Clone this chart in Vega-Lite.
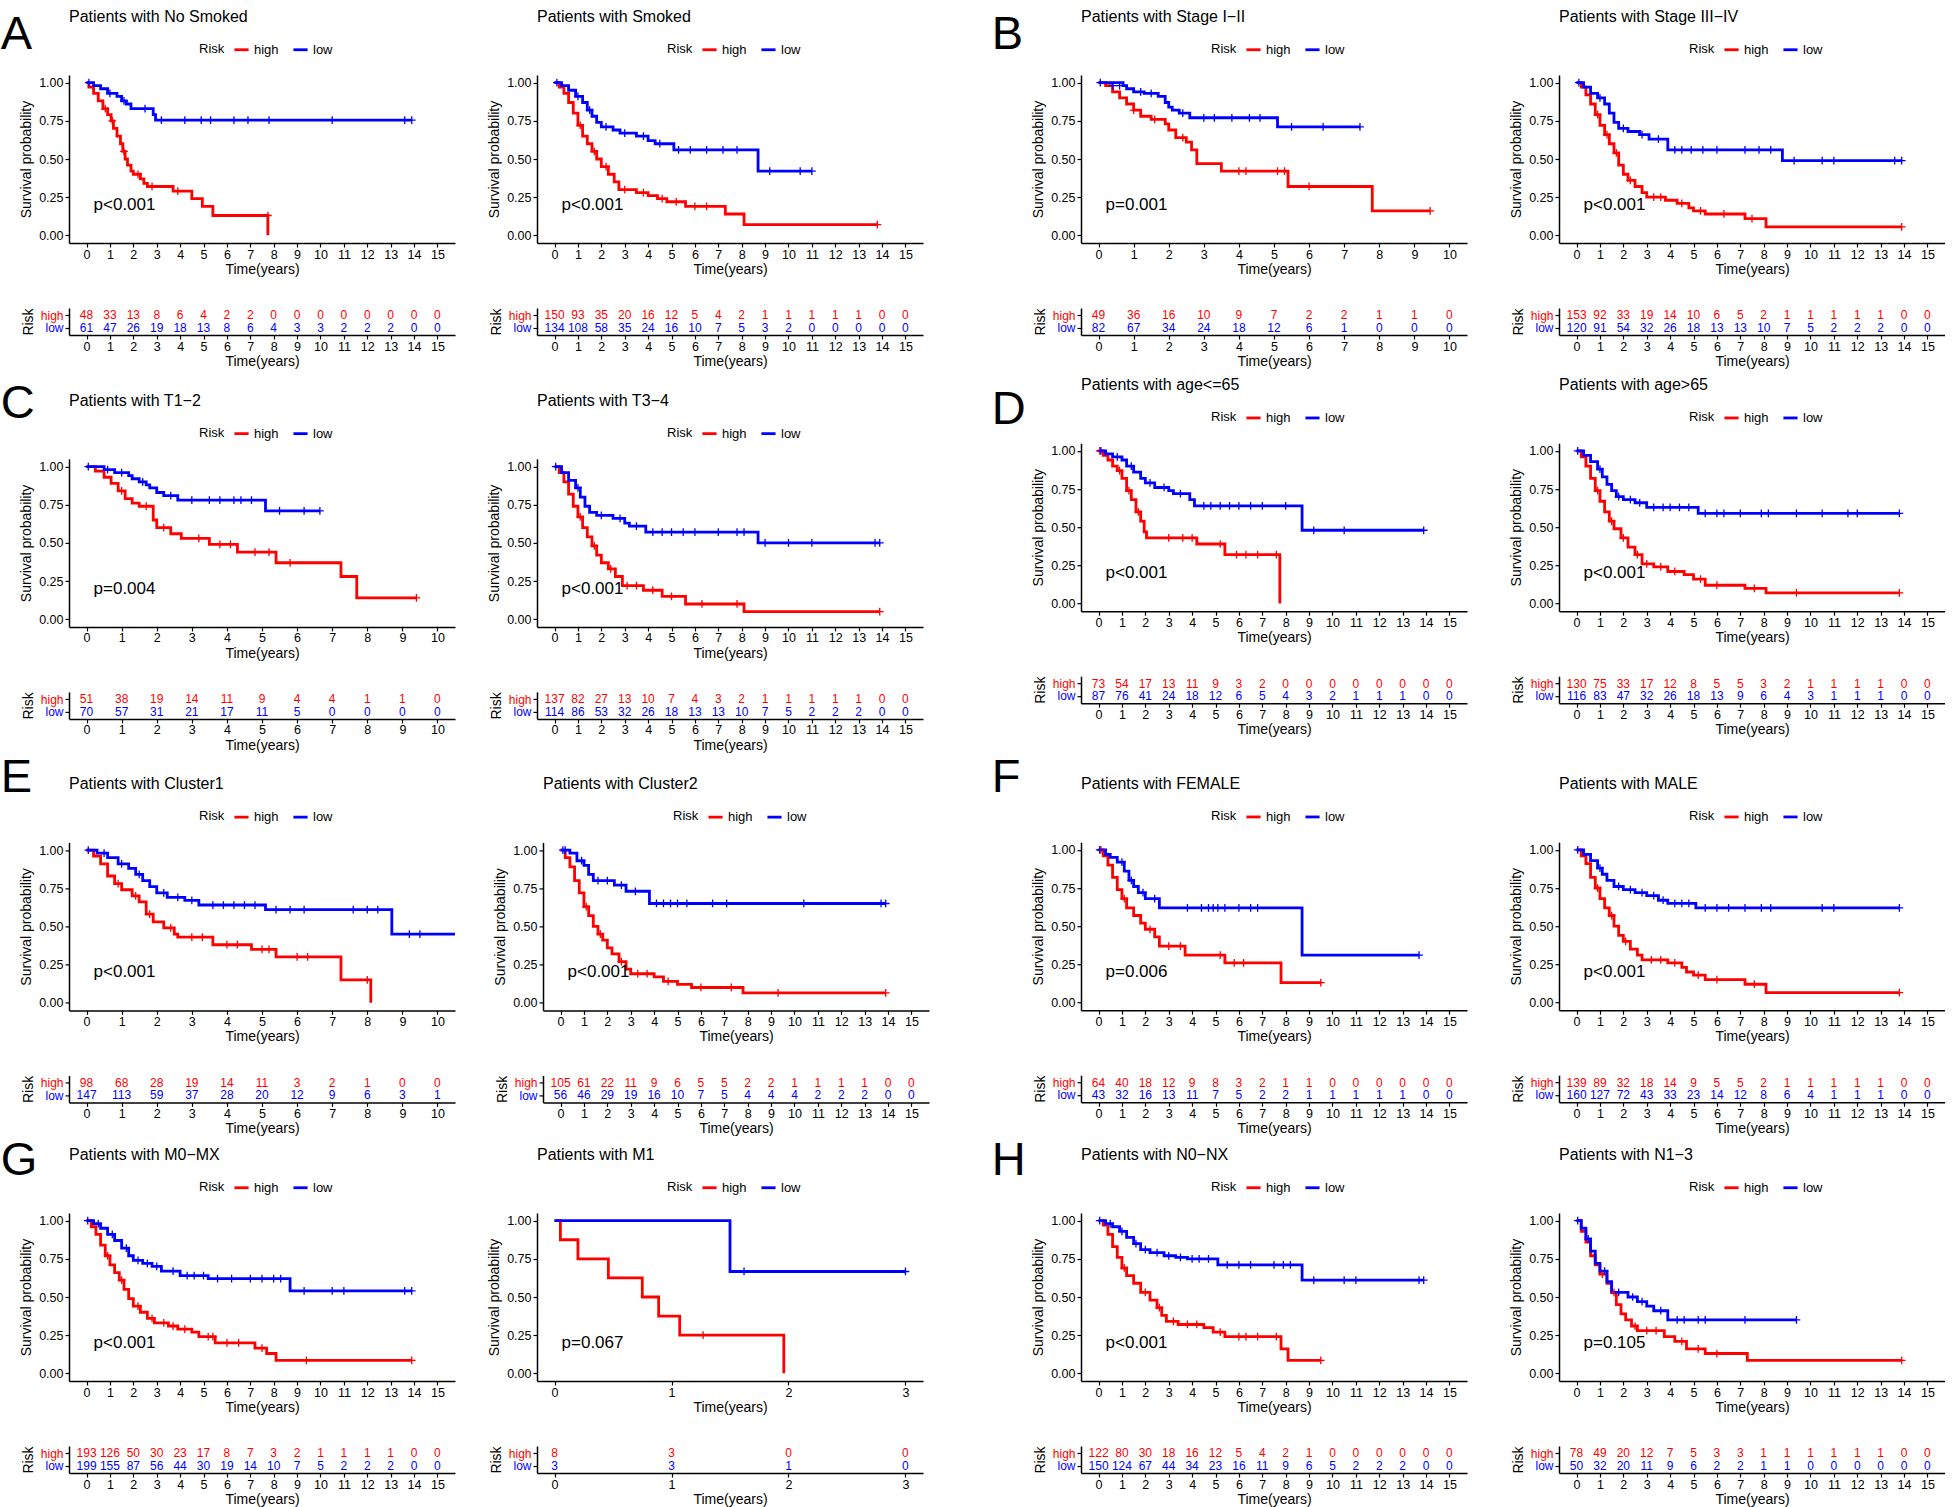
{
"$schema":"https://vega.github.io/schema/vega-lite/v6.json",
"padding":{"left":0,"top":9,"right":0,"bottom":0},
"background":"white",
"datasets":{
"curves":[
{"p":"p1","Risk":"high","t":0,"s":1},{"p":"p1","Risk":"high","t":0.1,"s":0.97},{"p":"p1","Risk":"high","t":0.3,"s":0.93},{"p":"p1","Risk":"high","t":0.5,"s":0.88},{"p":"p1","Risk":"high","t":0.7,"s":0.83},{"p":"p1","Risk":"high","t":0.9,"s":0.79},{"p":"p1","Risk":"high","t":1.05,"s":0.75},{"p":"p1","Risk":"high","t":1.15,"s":0.7},{"p":"p1","Risk":"high","t":1.3,"s":0.65},{"p":"p1","Risk":"high","t":1.45,"s":0.6},{"p":"p1","Risk":"high","t":1.55,"s":0.55},{"p":"p1","Risk":"high","t":1.65,"s":0.5},{"p":"p1","Risk":"high","t":1.75,"s":0.46},{"p":"p1","Risk":"high","t":1.9,"s":0.42},{"p":"p1","Risk":"high","t":2,"s":0.4},{"p":"p1","Risk":"high","t":2.3,"s":0.37},{"p":"p1","Risk":"high","t":2.45,"s":0.34},{"p":"p1","Risk":"high","t":2.6,"s":0.32},{"p":"p1","Risk":"high","t":3.7,"s":0.29},{"p":"p1","Risk":"high","t":4.5,"s":0.24},{"p":"p1","Risk":"high","t":4.95,"s":0.19},{"p":"p1","Risk":"high","t":5.4,"s":0.13},{"p":"p1","Risk":"high","t":7.75,"s":0},
{"p":"p1","Risk":"low","t":0,"s":1},{"p":"p1","Risk":"low","t":0.3,"s":0.98},{"p":"p1","Risk":"low","t":0.6,"s":0.96},{"p":"p1","Risk":"low","t":0.9,"s":0.93},{"p":"p1","Risk":"low","t":1.3,"s":0.91},{"p":"p1","Risk":"low","t":1.5,"s":0.88},{"p":"p1","Risk":"low","t":1.7,"s":0.86},{"p":"p1","Risk":"low","t":1.9,"s":0.83},{"p":"p1","Risk":"low","t":2.85,"s":0.79},{"p":"p1","Risk":"low","t":2.95,"s":0.755},{"p":"p1","Risk":"low","t":13.9,"s":0.755},
{"p":"p2","Risk":"high","t":0,"s":1},{"p":"p2","Risk":"high","t":0.2,"s":0.97},{"p":"p2","Risk":"high","t":0.4,"s":0.93},{"p":"p2","Risk":"high","t":0.6,"s":0.87},{"p":"p2","Risk":"high","t":0.8,"s":0.8},{"p":"p2","Risk":"high","t":1,"s":0.72},{"p":"p2","Risk":"high","t":1.2,"s":0.65},{"p":"p2","Risk":"high","t":1.4,"s":0.6},{"p":"p2","Risk":"high","t":1.6,"s":0.55},{"p":"p2","Risk":"high","t":1.8,"s":0.5},{"p":"p2","Risk":"high","t":2,"s":0.45},{"p":"p2","Risk":"high","t":2.3,"s":0.4},{"p":"p2","Risk":"high","t":2.55,"s":0.35},{"p":"p2","Risk":"high","t":2.75,"s":0.3},{"p":"p2","Risk":"high","t":3.5,"s":0.28},{"p":"p2","Risk":"high","t":4,"s":0.26},{"p":"p2","Risk":"high","t":4.4,"s":0.24},{"p":"p2","Risk":"high","t":4.8,"s":0.22},{"p":"p2","Risk":"high","t":5.6,"s":0.19},{"p":"p2","Risk":"high","t":7.3,"s":0.14},{"p":"p2","Risk":"high","t":8.1,"s":0.07},{"p":"p2","Risk":"high","t":13.8,"s":0.07},
{"p":"p2","Risk":"low","t":0,"s":1},{"p":"p2","Risk":"low","t":0.3,"s":0.98},{"p":"p2","Risk":"low","t":0.6,"s":0.95},{"p":"p2","Risk":"low","t":0.9,"s":0.91},{"p":"p2","Risk":"low","t":1.2,"s":0.87},{"p":"p2","Risk":"low","t":1.4,"s":0.82},{"p":"p2","Risk":"low","t":1.6,"s":0.78},{"p":"p2","Risk":"low","t":1.8,"s":0.74},{"p":"p2","Risk":"low","t":2,"s":0.71},{"p":"p2","Risk":"low","t":2.5,"s":0.69},{"p":"p2","Risk":"low","t":2.8,"s":0.67},{"p":"p2","Risk":"low","t":3.5,"s":0.65},{"p":"p2","Risk":"low","t":4,"s":0.62},{"p":"p2","Risk":"low","t":4.3,"s":0.6},{"p":"p2","Risk":"low","t":5.1,"s":0.56},{"p":"p2","Risk":"low","t":8.7,"s":0.42},{"p":"p2","Risk":"low","t":11,"s":0.42},
{"p":"p3","Risk":"high","t":0,"s":1},{"p":"p3","Risk":"high","t":0.2,"s":0.98},{"p":"p3","Risk":"high","t":0.4,"s":0.94},{"p":"p3","Risk":"high","t":0.6,"s":0.9},{"p":"p3","Risk":"high","t":0.8,"s":0.86},{"p":"p3","Risk":"high","t":1,"s":0.82},{"p":"p3","Risk":"high","t":1.2,"s":0.78},{"p":"p3","Risk":"high","t":1.5,"s":0.76},{"p":"p3","Risk":"high","t":1.9,"s":0.73},{"p":"p3","Risk":"high","t":2,"s":0.69},{"p":"p3","Risk":"high","t":2.2,"s":0.64},{"p":"p3","Risk":"high","t":2.5,"s":0.61},{"p":"p3","Risk":"high","t":2.65,"s":0.56},{"p":"p3","Risk":"high","t":2.8,"s":0.47},{"p":"p3","Risk":"high","t":3.5,"s":0.42},{"p":"p3","Risk":"high","t":5.4,"s":0.32},{"p":"p3","Risk":"high","t":7.8,"s":0.16},{"p":"p3","Risk":"high","t":9.45,"s":0.16},
{"p":"p3","Risk":"low","t":0,"s":1},{"p":"p3","Risk":"low","t":0.7,"s":0.98},{"p":"p3","Risk":"low","t":0.8,"s":0.96},{"p":"p3","Risk":"low","t":1,"s":0.94},{"p":"p3","Risk":"low","t":1.3,"s":0.93},{"p":"p3","Risk":"low","t":1.7,"s":0.91},{"p":"p3","Risk":"low","t":1.9,"s":0.87},{"p":"p3","Risk":"low","t":2,"s":0.84},{"p":"p3","Risk":"low","t":2.1,"s":0.82},{"p":"p3","Risk":"low","t":2.3,"s":0.8},{"p":"p3","Risk":"low","t":2.6,"s":0.77},{"p":"p3","Risk":"low","t":5.1,"s":0.71},{"p":"p3","Risk":"low","t":7.45,"s":0.71},
{"p":"p4","Risk":"high","t":0,"s":1},{"p":"p4","Risk":"high","t":0.2,"s":0.97},{"p":"p4","Risk":"high","t":0.4,"s":0.92},{"p":"p4","Risk":"high","t":0.6,"s":0.86},{"p":"p4","Risk":"high","t":0.8,"s":0.79},{"p":"p4","Risk":"high","t":1,"s":0.72},{"p":"p4","Risk":"high","t":1.2,"s":0.66},{"p":"p4","Risk":"high","t":1.4,"s":0.6},{"p":"p4","Risk":"high","t":1.6,"s":0.54},{"p":"p4","Risk":"high","t":1.8,"s":0.46},{"p":"p4","Risk":"high","t":2,"s":0.4},{"p":"p4","Risk":"high","t":2.2,"s":0.36},{"p":"p4","Risk":"high","t":2.5,"s":0.32},{"p":"p4","Risk":"high","t":2.8,"s":0.28},{"p":"p4","Risk":"high","t":3,"s":0.25},{"p":"p4","Risk":"high","t":3.8,"s":0.23},{"p":"p4","Risk":"high","t":4.3,"s":0.21},{"p":"p4","Risk":"high","t":4.8,"s":0.18},{"p":"p4","Risk":"high","t":5,"s":0.16},{"p":"p4","Risk":"high","t":5.5,"s":0.14},{"p":"p4","Risk":"high","t":7.2,"s":0.11},{"p":"p4","Risk":"high","t":8.1,"s":0.055},{"p":"p4","Risk":"high","t":13.9,"s":0.055},
{"p":"p4","Risk":"low","t":0,"s":1},{"p":"p4","Risk":"low","t":0.3,"s":0.97},{"p":"p4","Risk":"low","t":0.6,"s":0.93},{"p":"p4","Risk":"low","t":0.9,"s":0.9},{"p":"p4","Risk":"low","t":1.2,"s":0.86},{"p":"p4","Risk":"low","t":1.4,"s":0.8},{"p":"p4","Risk":"low","t":1.6,"s":0.74},{"p":"p4","Risk":"low","t":1.8,"s":0.7},{"p":"p4","Risk":"low","t":2.2,"s":0.68},{"p":"p4","Risk":"low","t":2.7,"s":0.66},{"p":"p4","Risk":"low","t":3.1,"s":0.63},{"p":"p4","Risk":"low","t":3.9,"s":0.56},{"p":"p4","Risk":"low","t":8.8,"s":0.49},{"p":"p4","Risk":"low","t":13.9,"s":0.49},
{"p":"p5","Risk":"high","t":0,"s":1},{"p":"p5","Risk":"high","t":0.25,"s":0.97},{"p":"p5","Risk":"high","t":0.5,"s":0.93},{"p":"p5","Risk":"high","t":0.7,"s":0.89},{"p":"p5","Risk":"high","t":0.9,"s":0.84},{"p":"p5","Risk":"high","t":1.1,"s":0.79},{"p":"p5","Risk":"high","t":1.3,"s":0.76},{"p":"p5","Risk":"high","t":1.5,"s":0.74},{"p":"p5","Risk":"high","t":1.9,"s":0.65},{"p":"p5","Risk":"high","t":2,"s":0.6},{"p":"p5","Risk":"high","t":2.4,"s":0.56},{"p":"p5","Risk":"high","t":2.7,"s":0.53},{"p":"p5","Risk":"high","t":3.5,"s":0.49},{"p":"p5","Risk":"high","t":4.3,"s":0.44},{"p":"p5","Risk":"high","t":5.4,"s":0.37},{"p":"p5","Risk":"high","t":7.25,"s":0.28},{"p":"p5","Risk":"high","t":7.7,"s":0.14},{"p":"p5","Risk":"high","t":9.4,"s":0.14},
{"p":"p5","Risk":"low","t":0,"s":1},{"p":"p5","Risk":"low","t":0.5,"s":0.98},{"p":"p5","Risk":"low","t":0.8,"s":0.96},{"p":"p5","Risk":"low","t":1.2,"s":0.94},{"p":"p5","Risk":"low","t":1.3,"s":0.92},{"p":"p5","Risk":"low","t":1.5,"s":0.9},{"p":"p5","Risk":"low","t":1.7,"s":0.88},{"p":"p5","Risk":"low","t":1.8,"s":0.86},{"p":"p5","Risk":"low","t":2,"s":0.83},{"p":"p5","Risk":"low","t":2.2,"s":0.81},{"p":"p5","Risk":"low","t":2.6,"s":0.78},{"p":"p5","Risk":"low","t":5.1,"s":0.71},{"p":"p5","Risk":"low","t":6.65,"s":0.71},
{"p":"p6","Risk":"high","t":0,"s":1},{"p":"p6","Risk":"high","t":0.2,"s":0.96},{"p":"p6","Risk":"high","t":0.4,"s":0.9},{"p":"p6","Risk":"high","t":0.6,"s":0.82},{"p":"p6","Risk":"high","t":0.8,"s":0.74},{"p":"p6","Risk":"high","t":1,"s":0.67},{"p":"p6","Risk":"high","t":1.2,"s":0.6},{"p":"p6","Risk":"high","t":1.4,"s":0.54},{"p":"p6","Risk":"high","t":1.6,"s":0.48},{"p":"p6","Risk":"high","t":1.8,"s":0.42},{"p":"p6","Risk":"high","t":2,"s":0.37},{"p":"p6","Risk":"high","t":2.3,"s":0.33},{"p":"p6","Risk":"high","t":2.6,"s":0.28},{"p":"p6","Risk":"high","t":2.9,"s":0.22},{"p":"p6","Risk":"high","t":3.8,"s":0.19},{"p":"p6","Risk":"high","t":4.6,"s":0.15},{"p":"p6","Risk":"high","t":5.6,"s":0.1},{"p":"p6","Risk":"high","t":8.1,"s":0.05},{"p":"p6","Risk":"high","t":13.9,"s":0.05},
{"p":"p6","Risk":"low","t":0,"s":1},{"p":"p6","Risk":"low","t":0.3,"s":0.96},{"p":"p6","Risk":"low","t":0.6,"s":0.91},{"p":"p6","Risk":"low","t":0.9,"s":0.86},{"p":"p6","Risk":"low","t":1.1,"s":0.8},{"p":"p6","Risk":"low","t":1.3,"s":0.74},{"p":"p6","Risk":"low","t":1.5,"s":0.7},{"p":"p6","Risk":"low","t":1.8,"s":0.68},{"p":"p6","Risk":"low","t":2.5,"s":0.66},{"p":"p6","Risk":"low","t":3,"s":0.63},{"p":"p6","Risk":"low","t":3.2,"s":0.61},{"p":"p6","Risk":"low","t":3.9,"s":0.57},{"p":"p6","Risk":"low","t":8.7,"s":0.5},{"p":"p6","Risk":"low","t":13.9,"s":0.5},
{"p":"p7","Risk":"high","t":0,"s":1},{"p":"p7","Risk":"high","t":0.2,"s":0.97},{"p":"p7","Risk":"high","t":0.4,"s":0.94},{"p":"p7","Risk":"high","t":0.6,"s":0.9},{"p":"p7","Risk":"high","t":0.8,"s":0.87},{"p":"p7","Risk":"high","t":1,"s":0.82},{"p":"p7","Risk":"high","t":1.2,"s":0.74},{"p":"p7","Risk":"high","t":1.4,"s":0.68},{"p":"p7","Risk":"high","t":1.6,"s":0.6},{"p":"p7","Risk":"high","t":1.8,"s":0.54},{"p":"p7","Risk":"high","t":1.95,"s":0.47},{"p":"p7","Risk":"high","t":2.05,"s":0.43},{"p":"p7","Risk":"high","t":4.2,"s":0.39},{"p":"p7","Risk":"high","t":5.4,"s":0.32},{"p":"p7","Risk":"high","t":7.75,"s":0},
{"p":"p7","Risk":"low","t":0,"s":1},{"p":"p7","Risk":"low","t":0.3,"s":0.98},{"p":"p7","Risk":"low","t":0.6,"s":0.96},{"p":"p7","Risk":"low","t":1,"s":0.94},{"p":"p7","Risk":"low","t":1.2,"s":0.9},{"p":"p7","Risk":"low","t":1.5,"s":0.86},{"p":"p7","Risk":"low","t":1.8,"s":0.82},{"p":"p7","Risk":"low","t":2,"s":0.79},{"p":"p7","Risk":"low","t":2.4,"s":0.76},{"p":"p7","Risk":"low","t":3,"s":0.74},{"p":"p7","Risk":"low","t":3.2,"s":0.72},{"p":"p7","Risk":"low","t":3.9,"s":0.68},{"p":"p7","Risk":"low","t":4.1,"s":0.64},{"p":"p7","Risk":"low","t":8.7,"s":0.48},{"p":"p7","Risk":"low","t":13.9,"s":0.48},
{"p":"p8","Risk":"high","t":0,"s":1},{"p":"p8","Risk":"high","t":0.2,"s":0.96},{"p":"p8","Risk":"high","t":0.4,"s":0.9},{"p":"p8","Risk":"high","t":0.6,"s":0.82},{"p":"p8","Risk":"high","t":0.8,"s":0.74},{"p":"p8","Risk":"high","t":1,"s":0.67},{"p":"p8","Risk":"high","t":1.2,"s":0.6},{"p":"p8","Risk":"high","t":1.4,"s":0.54},{"p":"p8","Risk":"high","t":1.6,"s":0.49},{"p":"p8","Risk":"high","t":1.9,"s":0.43},{"p":"p8","Risk":"high","t":2.2,"s":0.37},{"p":"p8","Risk":"high","t":2.5,"s":0.32},{"p":"p8","Risk":"high","t":2.8,"s":0.26},{"p":"p8","Risk":"high","t":3.3,"s":0.24},{"p":"p8","Risk":"high","t":3.9,"s":0.21},{"p":"p8","Risk":"high","t":4.6,"s":0.19},{"p":"p8","Risk":"high","t":5,"s":0.16},{"p":"p8","Risk":"high","t":5.5,"s":0.12},{"p":"p8","Risk":"high","t":7.2,"s":0.1},{"p":"p8","Risk":"high","t":8.1,"s":0.07},{"p":"p8","Risk":"high","t":13.8,"s":0.07},
{"p":"p8","Risk":"low","t":0,"s":1},{"p":"p8","Risk":"low","t":0.3,"s":0.97},{"p":"p8","Risk":"low","t":0.6,"s":0.93},{"p":"p8","Risk":"low","t":0.9,"s":0.88},{"p":"p8","Risk":"low","t":1.1,"s":0.83},{"p":"p8","Risk":"low","t":1.3,"s":0.78},{"p":"p8","Risk":"low","t":1.5,"s":0.74},{"p":"p8","Risk":"low","t":1.7,"s":0.7},{"p":"p8","Risk":"low","t":2,"s":0.68},{"p":"p8","Risk":"low","t":2.5,"s":0.66},{"p":"p8","Risk":"low","t":3,"s":0.63},{"p":"p8","Risk":"low","t":5.2,"s":0.59},{"p":"p8","Risk":"low","t":13.8,"s":0.59},
{"p":"p9","Risk":"high","t":0,"s":1},{"p":"p9","Risk":"high","t":0.2,"s":0.96},{"p":"p9","Risk":"high","t":0.4,"s":0.91},{"p":"p9","Risk":"high","t":0.6,"s":0.83},{"p":"p9","Risk":"high","t":0.8,"s":0.78},{"p":"p9","Risk":"high","t":1,"s":0.74},{"p":"p9","Risk":"high","t":1.3,"s":0.7},{"p":"p9","Risk":"high","t":1.5,"s":0.66},{"p":"p9","Risk":"high","t":1.7,"s":0.58},{"p":"p9","Risk":"high","t":1.9,"s":0.53},{"p":"p9","Risk":"high","t":2.2,"s":0.49},{"p":"p9","Risk":"high","t":2.5,"s":0.45},{"p":"p9","Risk":"high","t":2.6,"s":0.43},{"p":"p9","Risk":"high","t":3.6,"s":0.38},{"p":"p9","Risk":"high","t":4.7,"s":0.35},{"p":"p9","Risk":"high","t":5.4,"s":0.3},{"p":"p9","Risk":"high","t":7.25,"s":0.15},{"p":"p9","Risk":"high","t":8.1,"s":0},
{"p":"p9","Risk":"low","t":0,"s":1},{"p":"p9","Risk":"low","t":0.3,"s":0.98},{"p":"p9","Risk":"low","t":0.6,"s":0.95},{"p":"p9","Risk":"low","t":0.9,"s":0.91},{"p":"p9","Risk":"low","t":1.2,"s":0.88},{"p":"p9","Risk":"low","t":1.4,"s":0.84},{"p":"p9","Risk":"low","t":1.6,"s":0.8},{"p":"p9","Risk":"low","t":1.8,"s":0.76},{"p":"p9","Risk":"low","t":2,"s":0.72},{"p":"p9","Risk":"low","t":2.3,"s":0.69},{"p":"p9","Risk":"low","t":2.8,"s":0.67},{"p":"p9","Risk":"low","t":3.2,"s":0.64},{"p":"p9","Risk":"low","t":5.1,"s":0.61},{"p":"p9","Risk":"low","t":8.7,"s":0.45},{"p":"p9","Risk":"low","t":10.5,"s":0.45},
{"p":"p10","Risk":"high","t":0,"s":1},{"p":"p10","Risk":"high","t":0.2,"s":0.95},{"p":"p10","Risk":"high","t":0.4,"s":0.89},{"p":"p10","Risk":"high","t":0.6,"s":0.8},{"p":"p10","Risk":"high","t":0.8,"s":0.72},{"p":"p10","Risk":"high","t":1,"s":0.63},{"p":"p10","Risk":"high","t":1.2,"s":0.57},{"p":"p10","Risk":"high","t":1.4,"s":0.5},{"p":"p10","Risk":"high","t":1.6,"s":0.45},{"p":"p10","Risk":"high","t":1.8,"s":0.41},{"p":"p10","Risk":"high","t":2,"s":0.36},{"p":"p10","Risk":"high","t":2.2,"s":0.32},{"p":"p10","Risk":"high","t":2.5,"s":0.27},{"p":"p10","Risk":"high","t":2.8,"s":0.22},{"p":"p10","Risk":"high","t":3,"s":0.19},{"p":"p10","Risk":"high","t":4,"s":0.17},{"p":"p10","Risk":"high","t":4.4,"s":0.14},{"p":"p10","Risk":"high","t":5,"s":0.12},{"p":"p10","Risk":"high","t":5.6,"s":0.1},{"p":"p10","Risk":"high","t":7.8,"s":0.065},{"p":"p10","Risk":"high","t":13.9,"s":0.065},
{"p":"p10","Risk":"low","t":0,"s":1},{"p":"p10","Risk":"low","t":0.4,"s":0.98},{"p":"p10","Risk":"low","t":0.7,"s":0.93},{"p":"p10","Risk":"low","t":1,"s":0.9},{"p":"p10","Risk":"low","t":1.2,"s":0.84},{"p":"p10","Risk":"low","t":1.4,"s":0.8},{"p":"p10","Risk":"low","t":2.3,"s":0.77},{"p":"p10","Risk":"low","t":2.8,"s":0.73},{"p":"p10","Risk":"low","t":3.8,"s":0.65},{"p":"p10","Risk":"low","t":13.9,"s":0.65},
{"p":"p11","Risk":"high","t":0,"s":1},{"p":"p11","Risk":"high","t":0.2,"s":0.96},{"p":"p11","Risk":"high","t":0.4,"s":0.9},{"p":"p11","Risk":"high","t":0.6,"s":0.82},{"p":"p11","Risk":"high","t":0.8,"s":0.74},{"p":"p11","Risk":"high","t":1,"s":0.68},{"p":"p11","Risk":"high","t":1.2,"s":0.62},{"p":"p11","Risk":"high","t":1.5,"s":0.57},{"p":"p11","Risk":"high","t":1.8,"s":0.52},{"p":"p11","Risk":"high","t":2,"s":0.48},{"p":"p11","Risk":"high","t":2.4,"s":0.43},{"p":"p11","Risk":"high","t":2.6,"s":0.37},{"p":"p11","Risk":"high","t":3.7,"s":0.31},{"p":"p11","Risk":"high","t":5.4,"s":0.26},{"p":"p11","Risk":"high","t":7.8,"s":0.13},{"p":"p11","Risk":"high","t":9.5,"s":0.13},
{"p":"p11","Risk":"low","t":0,"s":1},{"p":"p11","Risk":"low","t":0.3,"s":0.97},{"p":"p11","Risk":"low","t":0.5,"s":0.95},{"p":"p11","Risk":"low","t":0.8,"s":0.92},{"p":"p11","Risk":"low","t":1.1,"s":0.86},{"p":"p11","Risk":"low","t":1.3,"s":0.8},{"p":"p11","Risk":"low","t":1.5,"s":0.76},{"p":"p11","Risk":"low","t":1.7,"s":0.72},{"p":"p11","Risk":"low","t":2,"s":0.68},{"p":"p11","Risk":"low","t":2.6,"s":0.62},{"p":"p11","Risk":"low","t":8.7,"s":0.31},{"p":"p11","Risk":"low","t":13.7,"s":0.31},
{"p":"p12","Risk":"high","t":0,"s":1},{"p":"p12","Risk":"high","t":0.2,"s":0.96},{"p":"p12","Risk":"high","t":0.4,"s":0.91},{"p":"p12","Risk":"high","t":0.6,"s":0.82},{"p":"p12","Risk":"high","t":0.8,"s":0.75},{"p":"p12","Risk":"high","t":1,"s":0.68},{"p":"p12","Risk":"high","t":1.2,"s":0.62},{"p":"p12","Risk":"high","t":1.4,"s":0.57},{"p":"p12","Risk":"high","t":1.6,"s":0.5},{"p":"p12","Risk":"high","t":1.8,"s":0.44},{"p":"p12","Risk":"high","t":2,"s":0.4},{"p":"p12","Risk":"high","t":2.3,"s":0.35},{"p":"p12","Risk":"high","t":2.6,"s":0.31},{"p":"p12","Risk":"high","t":2.8,"s":0.28},{"p":"p12","Risk":"high","t":3.9,"s":0.26},{"p":"p12","Risk":"high","t":4.5,"s":0.23},{"p":"p12","Risk":"high","t":4.7,"s":0.2},{"p":"p12","Risk":"high","t":5,"s":0.18},{"p":"p12","Risk":"high","t":5.5,"s":0.15},{"p":"p12","Risk":"high","t":7.2,"s":0.12},{"p":"p12","Risk":"high","t":8.1,"s":0.065},{"p":"p12","Risk":"high","t":13.8,"s":0.065},
{"p":"p12","Risk":"low","t":0,"s":1},{"p":"p12","Risk":"low","t":0.3,"s":0.97},{"p":"p12","Risk":"low","t":0.6,"s":0.93},{"p":"p12","Risk":"low","t":0.9,"s":0.88},{"p":"p12","Risk":"low","t":1.1,"s":0.84},{"p":"p12","Risk":"low","t":1.3,"s":0.8},{"p":"p12","Risk":"low","t":1.6,"s":0.76},{"p":"p12","Risk":"low","t":2,"s":0.74},{"p":"p12","Risk":"low","t":2.5,"s":0.72},{"p":"p12","Risk":"low","t":3,"s":0.7},{"p":"p12","Risk":"low","t":3.5,"s":0.67},{"p":"p12","Risk":"low","t":3.9,"s":0.65},{"p":"p12","Risk":"low","t":5.1,"s":0.62},{"p":"p12","Risk":"low","t":13.8,"s":0.62},
{"p":"p13","Risk":"high","t":0,"s":1},{"p":"p13","Risk":"high","t":0.2,"s":0.96},{"p":"p13","Risk":"high","t":0.4,"s":0.91},{"p":"p13","Risk":"high","t":0.6,"s":0.84},{"p":"p13","Risk":"high","t":0.8,"s":0.77},{"p":"p13","Risk":"high","t":1,"s":0.71},{"p":"p13","Risk":"high","t":1.2,"s":0.66},{"p":"p13","Risk":"high","t":1.4,"s":0.61},{"p":"p13","Risk":"high","t":1.6,"s":0.55},{"p":"p13","Risk":"high","t":1.8,"s":0.49},{"p":"p13","Risk":"high","t":2,"s":0.44},{"p":"p13","Risk":"high","t":2.3,"s":0.4},{"p":"p13","Risk":"high","t":2.6,"s":0.36},{"p":"p13","Risk":"high","t":2.9,"s":0.33},{"p":"p13","Risk":"high","t":3.5,"s":0.31},{"p":"p13","Risk":"high","t":3.9,"s":0.29},{"p":"p13","Risk":"high","t":4.5,"s":0.27},{"p":"p13","Risk":"high","t":4.8,"s":0.24},{"p":"p13","Risk":"high","t":5.5,"s":0.2},{"p":"p13","Risk":"high","t":7.2,"s":0.165},{"p":"p13","Risk":"high","t":7.7,"s":0.13},{"p":"p13","Risk":"high","t":8.1,"s":0.085},{"p":"p13","Risk":"high","t":13.9,"s":0.085},
{"p":"p13","Risk":"low","t":0,"s":1},{"p":"p13","Risk":"low","t":0.3,"s":0.98},{"p":"p13","Risk":"low","t":0.6,"s":0.95},{"p":"p13","Risk":"low","t":0.9,"s":0.91},{"p":"p13","Risk":"low","t":1.2,"s":0.87},{"p":"p13","Risk":"low","t":1.5,"s":0.82},{"p":"p13","Risk":"low","t":1.8,"s":0.77},{"p":"p13","Risk":"low","t":2,"s":0.74},{"p":"p13","Risk":"low","t":2.4,"s":0.72},{"p":"p13","Risk":"low","t":2.8,"s":0.7},{"p":"p13","Risk":"low","t":3.2,"s":0.67},{"p":"p13","Risk":"low","t":4,"s":0.64},{"p":"p13","Risk":"low","t":5.2,"s":0.62},{"p":"p13","Risk":"low","t":8.7,"s":0.54},{"p":"p13","Risk":"low","t":13.9,"s":0.54},
{"p":"p14","Risk":"high","t":0,"s":1},{"p":"p14","Risk":"high","t":0.05,"s":0.875},{"p":"p14","Risk":"high","t":0.2,"s":0.75},{"p":"p14","Risk":"high","t":0.46,"s":0.625},{"p":"p14","Risk":"high","t":0.75,"s":0.5},{"p":"p14","Risk":"high","t":0.89,"s":0.375},{"p":"p14","Risk":"high","t":1.07,"s":0.25},{"p":"p14","Risk":"high","t":1.96,"s":0},
{"p":"p14","Risk":"low","t":0,"s":1},{"p":"p14","Risk":"low","t":1.5,"s":0.667},{"p":"p14","Risk":"low","t":3,"s":0.667},
{"p":"p15","Risk":"high","t":0,"s":1},{"p":"p15","Risk":"high","t":0.2,"s":0.97},{"p":"p15","Risk":"high","t":0.4,"s":0.91},{"p":"p15","Risk":"high","t":0.6,"s":0.83},{"p":"p15","Risk":"high","t":0.8,"s":0.76},{"p":"p15","Risk":"high","t":1,"s":0.69},{"p":"p15","Risk":"high","t":1.2,"s":0.64},{"p":"p15","Risk":"high","t":1.5,"s":0.59},{"p":"p15","Risk":"high","t":1.8,"s":0.53},{"p":"p15","Risk":"high","t":2.2,"s":0.48},{"p":"p15","Risk":"high","t":2.5,"s":0.43},{"p":"p15","Risk":"high","t":2.7,"s":0.38},{"p":"p15","Risk":"high","t":2.9,"s":0.34},{"p":"p15","Risk":"high","t":3.4,"s":0.32},{"p":"p15","Risk":"high","t":4.5,"s":0.3},{"p":"p15","Risk":"high","t":4.9,"s":0.27},{"p":"p15","Risk":"high","t":5.4,"s":0.24},{"p":"p15","Risk":"high","t":7.8,"s":0.16},{"p":"p15","Risk":"high","t":8.1,"s":0.085},{"p":"p15","Risk":"high","t":9.5,"s":0.085},
{"p":"p15","Risk":"low","t":0,"s":1},{"p":"p15","Risk":"low","t":0.3,"s":0.98},{"p":"p15","Risk":"low","t":0.6,"s":0.96},{"p":"p15","Risk":"low","t":0.9,"s":0.93},{"p":"p15","Risk":"low","t":1.2,"s":0.89},{"p":"p15","Risk":"low","t":1.5,"s":0.85},{"p":"p15","Risk":"low","t":1.8,"s":0.81},{"p":"p15","Risk":"low","t":2.2,"s":0.79},{"p":"p15","Risk":"low","t":2.8,"s":0.77},{"p":"p15","Risk":"low","t":3.3,"s":0.76},{"p":"p15","Risk":"low","t":3.8,"s":0.75},{"p":"p15","Risk":"low","t":5.1,"s":0.71},{"p":"p15","Risk":"low","t":8.7,"s":0.61},{"p":"p15","Risk":"low","t":13.9,"s":0.61},
{"p":"p16","Risk":"high","t":0,"s":1},{"p":"p16","Risk":"high","t":0.2,"s":0.93},{"p":"p16","Risk":"high","t":0.4,"s":0.86},{"p":"p16","Risk":"high","t":0.6,"s":0.77},{"p":"p16","Risk":"high","t":0.8,"s":0.71},{"p":"p16","Risk":"high","t":1,"s":0.65},{"p":"p16","Risk":"high","t":1.3,"s":0.59},{"p":"p16","Risk":"high","t":1.5,"s":0.53},{"p":"p16","Risk":"high","t":1.7,"s":0.45},{"p":"p16","Risk":"high","t":1.9,"s":0.39},{"p":"p16","Risk":"high","t":2.1,"s":0.35},{"p":"p16","Risk":"high","t":2.35,"s":0.31},{"p":"p16","Risk":"high","t":2.6,"s":0.28},{"p":"p16","Risk":"high","t":3.75,"s":0.24},{"p":"p16","Risk":"high","t":4.2,"s":0.21},{"p":"p16","Risk":"high","t":4.7,"s":0.16},{"p":"p16","Risk":"high","t":5.5,"s":0.13},{"p":"p16","Risk":"high","t":7.3,"s":0.085},{"p":"p16","Risk":"high","t":13.9,"s":0.085},
{"p":"p16","Risk":"low","t":0,"s":1},{"p":"p16","Risk":"low","t":0.2,"s":0.95},{"p":"p16","Risk":"low","t":0.4,"s":0.88},{"p":"p16","Risk":"low","t":0.6,"s":0.8},{"p":"p16","Risk":"low","t":0.8,"s":0.72},{"p":"p16","Risk":"low","t":1,"s":0.67},{"p":"p16","Risk":"low","t":1.3,"s":0.6},{"p":"p16","Risk":"low","t":1.5,"s":0.53},{"p":"p16","Risk":"low","t":2.2,"s":0.5},{"p":"p16","Risk":"low","t":2.6,"s":0.47},{"p":"p16","Risk":"low","t":3,"s":0.44},{"p":"p16","Risk":"low","t":3.3,"s":0.41},{"p":"p16","Risk":"low","t":3.9,"s":0.35},{"p":"p16","Risk":"low","t":9.4,"s":0.35}
],
"censors":[
{"p":"p1","Risk":"high","t":0.8,"s":0.83},{"p":"p1","Risk":"high","t":1.1,"s":0.75},{"p":"p1","Risk":"high","t":1.6,"s":0.55},{"p":"p1","Risk":"high","t":2.2,"s":0.4},{"p":"p1","Risk":"high","t":2.8,"s":0.32},{"p":"p1","Risk":"high","t":3.9,"s":0.29},{"p":"p1","Risk":"high","t":7.75,"s":0.13},
{"p":"p1","Risk":"low","t":0.1,"s":1},{"p":"p1","Risk":"low","t":1,"s":0.93},{"p":"p1","Risk":"low","t":1.6,"s":0.88},{"p":"p1","Risk":"low","t":2.5,"s":0.83},{"p":"p1","Risk":"low","t":3.2,"s":0.755},{"p":"p1","Risk":"low","t":4.2,"s":0.755},{"p":"p1","Risk":"low","t":4.9,"s":0.755},{"p":"p1","Risk":"low","t":5.3,"s":0.755},{"p":"p1","Risk":"low","t":6.3,"s":0.755},{"p":"p1","Risk":"low","t":6.9,"s":0.755},{"p":"p1","Risk":"low","t":7.8,"s":0.755},{"p":"p1","Risk":"low","t":10.5,"s":0.755},{"p":"p1","Risk":"low","t":13.6,"s":0.755},{"p":"p1","Risk":"low","t":13.9,"s":0.755},
{"p":"p2","Risk":"high","t":1.1,"s":0.72},{"p":"p2","Risk":"high","t":1.7,"s":0.55},{"p":"p2","Risk":"high","t":2.2,"s":0.45},{"p":"p2","Risk":"high","t":3,"s":0.3},{"p":"p2","Risk":"high","t":3.8,"s":0.28},{"p":"p2","Risk":"high","t":4.6,"s":0.24},{"p":"p2","Risk":"high","t":5.2,"s":0.22},{"p":"p2","Risk":"high","t":6,"s":0.19},{"p":"p2","Risk":"high","t":6.5,"s":0.19},{"p":"p2","Risk":"high","t":13.8,"s":0.07},
{"p":"p2","Risk":"low","t":0.1,"s":1},{"p":"p2","Risk":"low","t":1,"s":0.91},{"p":"p2","Risk":"low","t":1.5,"s":0.82},{"p":"p2","Risk":"low","t":2.2,"s":0.71},{"p":"p2","Risk":"low","t":3,"s":0.67},{"p":"p2","Risk":"low","t":3.8,"s":0.65},{"p":"p2","Risk":"low","t":4.5,"s":0.6},{"p":"p2","Risk":"low","t":5.3,"s":0.56},{"p":"p2","Risk":"low","t":5.8,"s":0.56},{"p":"p2","Risk":"low","t":6.5,"s":0.56},{"p":"p2","Risk":"low","t":7.2,"s":0.56},{"p":"p2","Risk":"low","t":7.8,"s":0.56},{"p":"p2","Risk":"low","t":9.2,"s":0.42},{"p":"p2","Risk":"low","t":10.5,"s":0.42},{"p":"p2","Risk":"low","t":11,"s":0.42},
{"p":"p3","Risk":"high","t":1,"s":0.82},{"p":"p3","Risk":"high","t":1.6,"s":0.76},{"p":"p3","Risk":"high","t":2.4,"s":0.64},{"p":"p3","Risk":"high","t":4,"s":0.42},{"p":"p3","Risk":"high","t":4.2,"s":0.42},{"p":"p3","Risk":"high","t":5.1,"s":0.42},{"p":"p3","Risk":"high","t":5.3,"s":0.42},{"p":"p3","Risk":"high","t":6,"s":0.32},{"p":"p3","Risk":"high","t":9.45,"s":0.16},
{"p":"p3","Risk":"low","t":0.05,"s":1},{"p":"p3","Risk":"low","t":0.4,"s":0.98},{"p":"p3","Risk":"low","t":0.6,"s":0.98},{"p":"p3","Risk":"low","t":1.2,"s":0.94},{"p":"p3","Risk":"low","t":1.5,"s":0.93},{"p":"p3","Risk":"low","t":2.4,"s":0.8},{"p":"p3","Risk":"low","t":3,"s":0.77},{"p":"p3","Risk":"low","t":3.3,"s":0.77},{"p":"p3","Risk":"low","t":3.8,"s":0.77},{"p":"p3","Risk":"low","t":4.3,"s":0.77},{"p":"p3","Risk":"low","t":4.6,"s":0.77},{"p":"p3","Risk":"low","t":5.5,"s":0.71},{"p":"p3","Risk":"low","t":6.4,"s":0.71},{"p":"p3","Risk":"low","t":7.45,"s":0.71},
{"p":"p4","Risk":"high","t":0.9,"s":0.79},{"p":"p4","Risk":"high","t":1.3,"s":0.66},{"p":"p4","Risk":"high","t":1.7,"s":0.54},{"p":"p4","Risk":"high","t":2.3,"s":0.36},{"p":"p4","Risk":"high","t":3.3,"s":0.25},{"p":"p4","Risk":"high","t":3.6,"s":0.25},{"p":"p4","Risk":"high","t":4.5,"s":0.21},{"p":"p4","Risk":"high","t":5.3,"s":0.16},{"p":"p4","Risk":"high","t":6.3,"s":0.14},{"p":"p4","Risk":"high","t":7.5,"s":0.11},{"p":"p4","Risk":"high","t":13.9,"s":0.055},
{"p":"p4","Risk":"low","t":0.1,"s":1},{"p":"p4","Risk":"low","t":1,"s":0.9},{"p":"p4","Risk":"low","t":2,"s":0.7},{"p":"p4","Risk":"low","t":2.8,"s":0.66},{"p":"p4","Risk":"low","t":3.5,"s":0.63},{"p":"p4","Risk":"low","t":4.2,"s":0.56},{"p":"p4","Risk":"low","t":4.5,"s":0.56},{"p":"p4","Risk":"low","t":4.9,"s":0.56},{"p":"p4","Risk":"low","t":5.4,"s":0.56},{"p":"p4","Risk":"low","t":6,"s":0.56},{"p":"p4","Risk":"low","t":7.2,"s":0.56},{"p":"p4","Risk":"low","t":7.8,"s":0.56},{"p":"p4","Risk":"low","t":8.3,"s":0.56},{"p":"p4","Risk":"low","t":9.3,"s":0.49},{"p":"p4","Risk":"low","t":10.5,"s":0.49},{"p":"p4","Risk":"low","t":11,"s":0.49},{"p":"p4","Risk":"low","t":13.6,"s":0.49},{"p":"p4","Risk":"low","t":13.9,"s":0.49},
{"p":"p5","Risk":"high","t":1,"s":0.84},{"p":"p5","Risk":"high","t":1.7,"s":0.74},{"p":"p5","Risk":"high","t":2.2,"s":0.6},{"p":"p5","Risk":"high","t":3.2,"s":0.53},{"p":"p5","Risk":"high","t":3.8,"s":0.49},{"p":"p5","Risk":"high","t":4.1,"s":0.49},{"p":"p5","Risk":"high","t":4.8,"s":0.44},{"p":"p5","Risk":"high","t":5.2,"s":0.44},{"p":"p5","Risk":"high","t":5.8,"s":0.37},{"p":"p5","Risk":"high","t":9.4,"s":0.14},
{"p":"p5","Risk":"low","t":0.05,"s":1},{"p":"p5","Risk":"low","t":0.6,"s":0.98},{"p":"p5","Risk":"low","t":1,"s":0.96},{"p":"p5","Risk":"low","t":1.6,"s":0.9},{"p":"p5","Risk":"low","t":2.4,"s":0.81},{"p":"p5","Risk":"low","t":3,"s":0.78},{"p":"p5","Risk":"low","t":3.5,"s":0.78},{"p":"p5","Risk":"low","t":3.8,"s":0.78},{"p":"p5","Risk":"low","t":4.2,"s":0.78},{"p":"p5","Risk":"low","t":4.4,"s":0.78},{"p":"p5","Risk":"low","t":4.7,"s":0.78},{"p":"p5","Risk":"low","t":5.5,"s":0.71},{"p":"p5","Risk":"low","t":6.2,"s":0.71},{"p":"p5","Risk":"low","t":6.65,"s":0.71},
{"p":"p6","Risk":"high","t":1.1,"s":0.67},{"p":"p6","Risk":"high","t":1.7,"s":0.48},{"p":"p6","Risk":"high","t":2.4,"s":0.33},{"p":"p6","Risk":"high","t":3.1,"s":0.22},{"p":"p6","Risk":"high","t":3.5,"s":0.22},{"p":"p6","Risk":"high","t":4.2,"s":0.19},{"p":"p6","Risk":"high","t":5,"s":0.15},{"p":"p6","Risk":"high","t":6.3,"s":0.1},{"p":"p6","Risk":"high","t":7.8,"s":0.1},{"p":"p6","Risk":"high","t":13.9,"s":0.05},
{"p":"p6","Risk":"low","t":0.05,"s":1},{"p":"p6","Risk":"low","t":1,"s":0.86},{"p":"p6","Risk":"low","t":2,"s":0.68},{"p":"p6","Risk":"low","t":2.8,"s":0.66},{"p":"p6","Risk":"low","t":3.5,"s":0.61},{"p":"p6","Risk":"low","t":4.2,"s":0.57},{"p":"p6","Risk":"low","t":4.6,"s":0.57},{"p":"p6","Risk":"low","t":5,"s":0.57},{"p":"p6","Risk":"low","t":5.5,"s":0.57},{"p":"p6","Risk":"low","t":6,"s":0.57},{"p":"p6","Risk":"low","t":7,"s":0.57},{"p":"p6","Risk":"low","t":7.8,"s":0.57},{"p":"p6","Risk":"low","t":8.1,"s":0.57},{"p":"p6","Risk":"low","t":9,"s":0.5},{"p":"p6","Risk":"low","t":10,"s":0.5},{"p":"p6","Risk":"low","t":11,"s":0.5},{"p":"p6","Risk":"low","t":13.7,"s":0.5},{"p":"p6","Risk":"low","t":13.9,"s":0.5},
{"p":"p7","Risk":"high","t":0.05,"s":1},{"p":"p7","Risk":"high","t":0.9,"s":0.87},{"p":"p7","Risk":"high","t":1.3,"s":0.74},{"p":"p7","Risk":"high","t":1.7,"s":0.6},{"p":"p7","Risk":"high","t":3,"s":0.43},{"p":"p7","Risk":"high","t":3.6,"s":0.43},{"p":"p7","Risk":"high","t":4,"s":0.43},{"p":"p7","Risk":"high","t":5.2,"s":0.39},{"p":"p7","Risk":"high","t":5.9,"s":0.32},{"p":"p7","Risk":"high","t":6.3,"s":0.32},{"p":"p7","Risk":"high","t":6.8,"s":0.32},{"p":"p7","Risk":"high","t":7.6,"s":0.32},
{"p":"p7","Risk":"low","t":0.1,"s":1},{"p":"p7","Risk":"low","t":0.8,"s":0.96},{"p":"p7","Risk":"low","t":1.4,"s":0.9},{"p":"p7","Risk":"low","t":2.2,"s":0.79},{"p":"p7","Risk":"low","t":2.8,"s":0.76},{"p":"p7","Risk":"low","t":3.5,"s":0.72},{"p":"p7","Risk":"low","t":4.5,"s":0.64},{"p":"p7","Risk":"low","t":4.8,"s":0.64},{"p":"p7","Risk":"low","t":5.2,"s":0.64},{"p":"p7","Risk":"low","t":5.6,"s":0.64},{"p":"p7","Risk":"low","t":6,"s":0.64},{"p":"p7","Risk":"low","t":6.5,"s":0.64},{"p":"p7","Risk":"low","t":7,"s":0.64},{"p":"p7","Risk":"low","t":8,"s":0.64},{"p":"p7","Risk":"low","t":9.2,"s":0.48},{"p":"p7","Risk":"low","t":10.5,"s":0.48},{"p":"p7","Risk":"low","t":13.9,"s":0.48},
{"p":"p8","Risk":"high","t":0.9,"s":0.74},{"p":"p8","Risk":"high","t":1.5,"s":0.54},{"p":"p8","Risk":"high","t":2,"s":0.43},{"p":"p8","Risk":"high","t":2.6,"s":0.32},{"p":"p8","Risk":"high","t":3,"s":0.26},{"p":"p8","Risk":"high","t":3.6,"s":0.24},{"p":"p8","Risk":"high","t":4.2,"s":0.21},{"p":"p8","Risk":"high","t":5.3,"s":0.16},{"p":"p8","Risk":"high","t":6,"s":0.12},{"p":"p8","Risk":"high","t":7.6,"s":0.1},{"p":"p8","Risk":"high","t":9.4,"s":0.07},{"p":"p8","Risk":"high","t":13.8,"s":0.07},
{"p":"p8","Risk":"low","t":0.05,"s":1},{"p":"p8","Risk":"low","t":1,"s":0.88},{"p":"p8","Risk":"low","t":1.8,"s":0.7},{"p":"p8","Risk":"low","t":2.3,"s":0.68},{"p":"p8","Risk":"low","t":2.7,"s":0.66},{"p":"p8","Risk":"low","t":3.3,"s":0.63},{"p":"p8","Risk":"low","t":3.7,"s":0.63},{"p":"p8","Risk":"low","t":4,"s":0.63},{"p":"p8","Risk":"low","t":4.4,"s":0.63},{"p":"p8","Risk":"low","t":4.8,"s":0.63},{"p":"p8","Risk":"low","t":5.5,"s":0.59},{"p":"p8","Risk":"low","t":6,"s":0.59},{"p":"p8","Risk":"low","t":6.3,"s":0.59},{"p":"p8","Risk":"low","t":7,"s":0.59},{"p":"p8","Risk":"low","t":7.9,"s":0.59},{"p":"p8","Risk":"low","t":8.2,"s":0.59},{"p":"p8","Risk":"low","t":9.4,"s":0.59},{"p":"p8","Risk":"low","t":10.5,"s":0.59},{"p":"p8","Risk":"low","t":11.6,"s":0.59},{"p":"p8","Risk":"low","t":12,"s":0.59},{"p":"p8","Risk":"low","t":13.8,"s":0.59},
{"p":"p9","Risk":"high","t":0.9,"s":0.78},{"p":"p9","Risk":"high","t":1.4,"s":0.7},{"p":"p9","Risk":"high","t":1.8,"s":0.58},{"p":"p9","Risk":"high","t":2.4,"s":0.49},{"p":"p9","Risk":"high","t":3,"s":0.43},{"p":"p9","Risk":"high","t":3.3,"s":0.43},{"p":"p9","Risk":"high","t":4,"s":0.38},{"p":"p9","Risk":"high","t":4.3,"s":0.38},{"p":"p9","Risk":"high","t":5,"s":0.35},{"p":"p9","Risk":"high","t":5.2,"s":0.35},{"p":"p9","Risk":"high","t":6,"s":0.3},{"p":"p9","Risk":"high","t":6.3,"s":0.3},{"p":"p9","Risk":"high","t":8,"s":0.15},
{"p":"p9","Risk":"low","t":0.05,"s":1},{"p":"p9","Risk":"low","t":0.5,"s":0.98},{"p":"p9","Risk":"low","t":1,"s":0.91},{"p":"p9","Risk":"low","t":1.5,"s":0.84},{"p":"p9","Risk":"low","t":2.2,"s":0.72},{"p":"p9","Risk":"low","t":2.6,"s":0.69},{"p":"p9","Risk":"low","t":3,"s":0.67},{"p":"p9","Risk":"low","t":3.6,"s":0.64},{"p":"p9","Risk":"low","t":3.9,"s":0.64},{"p":"p9","Risk":"low","t":4.2,"s":0.64},{"p":"p9","Risk":"low","t":4.5,"s":0.64},{"p":"p9","Risk":"low","t":4.8,"s":0.64},{"p":"p9","Risk":"low","t":5.4,"s":0.61},{"p":"p9","Risk":"low","t":5.8,"s":0.61},{"p":"p9","Risk":"low","t":6.2,"s":0.61},{"p":"p9","Risk":"low","t":7.6,"s":0.61},{"p":"p9","Risk":"low","t":8,"s":0.61},{"p":"p9","Risk":"low","t":8.3,"s":0.61},{"p":"p9","Risk":"low","t":9.2,"s":0.45},{"p":"p9","Risk":"low","t":9.5,"s":0.45},
{"p":"p10","Risk":"high","t":1.1,"s":0.63},{"p":"p10","Risk":"high","t":1.7,"s":0.45},{"p":"p10","Risk":"high","t":2.6,"s":0.27},{"p":"p10","Risk":"high","t":3.3,"s":0.19},{"p":"p10","Risk":"high","t":3.7,"s":0.19},{"p":"p10","Risk":"high","t":4.6,"s":0.14},{"p":"p10","Risk":"high","t":6,"s":0.1},{"p":"p10","Risk":"high","t":7.3,"s":0.1},{"p":"p10","Risk":"high","t":9.3,"s":0.065},{"p":"p10","Risk":"high","t":13.9,"s":0.065},
{"p":"p10","Risk":"low","t":0.1,"s":1},{"p":"p10","Risk":"low","t":0.2,"s":1},{"p":"p10","Risk":"low","t":0.9,"s":0.93},{"p":"p10","Risk":"low","t":1.6,"s":0.8},{"p":"p10","Risk":"low","t":2,"s":0.8},{"p":"p10","Risk":"low","t":2.6,"s":0.77},{"p":"p10","Risk":"low","t":3.2,"s":0.73},{"p":"p10","Risk":"low","t":4.1,"s":0.65},{"p":"p10","Risk":"low","t":4.4,"s":0.65},{"p":"p10","Risk":"low","t":4.7,"s":0.65},{"p":"p10","Risk":"low","t":5,"s":0.65},{"p":"p10","Risk":"low","t":5.4,"s":0.65},{"p":"p10","Risk":"low","t":6.5,"s":0.65},{"p":"p10","Risk":"low","t":7.1,"s":0.65},{"p":"p10","Risk":"low","t":10.4,"s":0.65},{"p":"p10","Risk":"low","t":13.7,"s":0.65},{"p":"p10","Risk":"low","t":13.9,"s":0.65},
{"p":"p11","Risk":"high","t":0.1,"s":1},{"p":"p11","Risk":"high","t":1.1,"s":0.68},{"p":"p11","Risk":"high","t":2.2,"s":0.48},{"p":"p11","Risk":"high","t":3,"s":0.37},{"p":"p11","Risk":"high","t":3.5,"s":0.37},{"p":"p11","Risk":"high","t":5.2,"s":0.31},{"p":"p11","Risk":"high","t":5.8,"s":0.26},{"p":"p11","Risk":"high","t":6.2,"s":0.26},{"p":"p11","Risk":"high","t":9.5,"s":0.13},
{"p":"p11","Risk":"low","t":0.05,"s":1},{"p":"p11","Risk":"low","t":1,"s":0.92},{"p":"p11","Risk":"low","t":1.4,"s":0.8},{"p":"p11","Risk":"low","t":1.9,"s":0.72},{"p":"p11","Risk":"low","t":2.4,"s":0.68},{"p":"p11","Risk":"low","t":3.8,"s":0.62},{"p":"p11","Risk":"low","t":4.4,"s":0.62},{"p":"p11","Risk":"low","t":4.7,"s":0.62},{"p":"p11","Risk":"low","t":4.9,"s":0.62},{"p":"p11","Risk":"low","t":5.1,"s":0.62},{"p":"p11","Risk":"low","t":5.4,"s":0.62},{"p":"p11","Risk":"low","t":6,"s":0.62},{"p":"p11","Risk":"low","t":6.5,"s":0.62},{"p":"p11","Risk":"low","t":6.8,"s":0.62},{"p":"p11","Risk":"low","t":13.7,"s":0.31},
{"p":"p12","Risk":"high","t":0.9,"s":0.75},{"p":"p12","Risk":"high","t":1.5,"s":0.57},{"p":"p12","Risk":"high","t":2.1,"s":0.4},{"p":"p12","Risk":"high","t":3.2,"s":0.28},{"p":"p12","Risk":"high","t":3.6,"s":0.28},{"p":"p12","Risk":"high","t":4.2,"s":0.26},{"p":"p12","Risk":"high","t":5.2,"s":0.18},{"p":"p12","Risk":"high","t":6,"s":0.15},{"p":"p12","Risk":"high","t":7.6,"s":0.12},{"p":"p12","Risk":"high","t":13.8,"s":0.065},
{"p":"p12","Risk":"low","t":0.05,"s":1},{"p":"p12","Risk":"low","t":1,"s":0.88},{"p":"p12","Risk":"low","t":1.8,"s":0.76},{"p":"p12","Risk":"low","t":2.3,"s":0.74},{"p":"p12","Risk":"low","t":2.8,"s":0.72},{"p":"p12","Risk":"low","t":3.3,"s":0.7},{"p":"p12","Risk":"low","t":3.7,"s":0.67},{"p":"p12","Risk":"low","t":4.2,"s":0.65},{"p":"p12","Risk":"low","t":4.5,"s":0.65},{"p":"p12","Risk":"low","t":4.8,"s":0.65},{"p":"p12","Risk":"low","t":5.5,"s":0.62},{"p":"p12","Risk":"low","t":6,"s":0.62},{"p":"p12","Risk":"low","t":6.5,"s":0.62},{"p":"p12","Risk":"low","t":7.2,"s":0.62},{"p":"p12","Risk":"low","t":7.9,"s":0.62},{"p":"p12","Risk":"low","t":8.3,"s":0.62},{"p":"p12","Risk":"low","t":10.5,"s":0.62},{"p":"p12","Risk":"low","t":11,"s":0.62},{"p":"p12","Risk":"low","t":13.8,"s":0.62},
{"p":"p13","Risk":"high","t":0.9,"s":0.77},{"p":"p13","Risk":"high","t":1.5,"s":0.61},{"p":"p13","Risk":"high","t":2.2,"s":0.44},{"p":"p13","Risk":"high","t":2.8,"s":0.36},{"p":"p13","Risk":"high","t":3.3,"s":0.33},{"p":"p13","Risk":"high","t":3.7,"s":0.31},{"p":"p13","Risk":"high","t":4.2,"s":0.29},{"p":"p13","Risk":"high","t":5.2,"s":0.24},{"p":"p13","Risk":"high","t":5.4,"s":0.24},{"p":"p13","Risk":"high","t":6,"s":0.2},{"p":"p13","Risk":"high","t":6.5,"s":0.2},{"p":"p13","Risk":"high","t":7.5,"s":0.165},{"p":"p13","Risk":"high","t":9.4,"s":0.085},{"p":"p13","Risk":"high","t":13.9,"s":0.085},
{"p":"p13","Risk":"low","t":0.05,"s":1},{"p":"p13","Risk":"low","t":0.5,"s":0.98},{"p":"p13","Risk":"low","t":1.1,"s":0.91},{"p":"p13","Risk":"low","t":1.7,"s":0.82},{"p":"p13","Risk":"low","t":2.2,"s":0.74},{"p":"p13","Risk":"low","t":2.6,"s":0.72},{"p":"p13","Risk":"low","t":3,"s":0.7},{"p":"p13","Risk":"low","t":3.7,"s":0.67},{"p":"p13","Risk":"low","t":4.3,"s":0.64},{"p":"p13","Risk":"low","t":4.6,"s":0.64},{"p":"p13","Risk":"low","t":5,"s":0.64},{"p":"p13","Risk":"low","t":5.6,"s":0.62},{"p":"p13","Risk":"low","t":6.2,"s":0.62},{"p":"p13","Risk":"low","t":7,"s":0.62},{"p":"p13","Risk":"low","t":7.5,"s":0.62},{"p":"p13","Risk":"low","t":8,"s":0.62},{"p":"p13","Risk":"low","t":8.3,"s":0.62},{"p":"p13","Risk":"low","t":9.3,"s":0.54},{"p":"p13","Risk":"low","t":10.5,"s":0.54},{"p":"p13","Risk":"low","t":11,"s":0.54},{"p":"p13","Risk":"low","t":13.6,"s":0.54},{"p":"p13","Risk":"low","t":13.9,"s":0.54},
{"p":"p14","Risk":"high","t":1.27,"s":0.25},
{"p":"p14","Risk":"low","t":1.62,"s":0.667},{"p":"p14","Risk":"low","t":3,"s":0.667},
{"p":"p15","Risk":"high","t":1.1,"s":0.69},{"p":"p15","Risk":"high","t":2,"s":0.53},{"p":"p15","Risk":"high","t":2.6,"s":0.43},{"p":"p15","Risk":"high","t":3.2,"s":0.34},{"p":"p15","Risk":"high","t":3.8,"s":0.32},{"p":"p15","Risk":"high","t":4.2,"s":0.32},{"p":"p15","Risk":"high","t":5.2,"s":0.27},{"p":"p15","Risk":"high","t":6,"s":0.24},{"p":"p15","Risk":"high","t":6.3,"s":0.24},{"p":"p15","Risk":"high","t":6.8,"s":0.24},{"p":"p15","Risk":"high","t":7.6,"s":0.24},{"p":"p15","Risk":"high","t":9.5,"s":0.085},
{"p":"p15","Risk":"low","t":0.05,"s":1},{"p":"p15","Risk":"low","t":0.5,"s":0.98},{"p":"p15","Risk":"low","t":1,"s":0.93},{"p":"p15","Risk":"low","t":1.6,"s":0.85},{"p":"p15","Risk":"low","t":2,"s":0.81},{"p":"p15","Risk":"low","t":2.5,"s":0.79},{"p":"p15","Risk":"low","t":3,"s":0.77},{"p":"p15","Risk":"low","t":3.5,"s":0.76},{"p":"p15","Risk":"low","t":4,"s":0.75},{"p":"p15","Risk":"low","t":4.3,"s":0.75},{"p":"p15","Risk":"low","t":4.7,"s":0.75},{"p":"p15","Risk":"low","t":5.5,"s":0.71},{"p":"p15","Risk":"low","t":6,"s":0.71},{"p":"p15","Risk":"low","t":6.5,"s":0.71},{"p":"p15","Risk":"low","t":7.5,"s":0.71},{"p":"p15","Risk":"low","t":7.9,"s":0.71},{"p":"p15","Risk":"low","t":8.2,"s":0.71},{"p":"p15","Risk":"low","t":9.2,"s":0.61},{"p":"p15","Risk":"low","t":10.5,"s":0.61},{"p":"p15","Risk":"low","t":11,"s":0.61},{"p":"p15","Risk":"low","t":13.7,"s":0.61},{"p":"p15","Risk":"low","t":13.9,"s":0.61},
{"p":"p16","Risk":"high","t":1.1,"s":0.65},{"p":"p16","Risk":"high","t":1.6,"s":0.53},{"p":"p16","Risk":"high","t":2.5,"s":0.31},{"p":"p16","Risk":"high","t":3,"s":0.28},{"p":"p16","Risk":"high","t":3.4,"s":0.28},{"p":"p16","Risk":"high","t":4.5,"s":0.21},{"p":"p16","Risk":"high","t":5.2,"s":0.16},{"p":"p16","Risk":"high","t":6,"s":0.13},{"p":"p16","Risk":"high","t":13.9,"s":0.085},
{"p":"p16","Risk":"low","t":0.05,"s":1},{"p":"p16","Risk":"low","t":0.5,"s":0.88},{"p":"p16","Risk":"low","t":1.2,"s":0.67},{"p":"p16","Risk":"low","t":1.8,"s":0.53},{"p":"p16","Risk":"low","t":2.4,"s":0.5},{"p":"p16","Risk":"low","t":2.8,"s":0.47},{"p":"p16","Risk":"low","t":3.6,"s":0.41},{"p":"p16","Risk":"low","t":4.3,"s":0.35},{"p":"p16","Risk":"low","t":4.6,"s":0.35},{"p":"p16","Risk":"low","t":5.2,"s":0.35},{"p":"p16","Risk":"low","t":5.5,"s":0.35},{"p":"p16","Risk":"low","t":7.2,"s":0.35},{"p":"p16","Risk":"low","t":9.4,"s":0.35}
],
"pvals":[
{"p":"p1","t":0.3,"s":0.2,"label":"p<0.001"},{"p":"p2","t":0.3,"s":0.2,"label":"p<0.001"},{"p":"p3","t":0.2,"s":0.2,"label":"p=0.001"},{"p":"p4","t":0.3,"s":0.2,"label":"p<0.001"},
{"p":"p5","t":0.2,"s":0.2,"label":"p=0.004"},{"p":"p6","t":0.3,"s":0.2,"label":"p<0.001"},{"p":"p7","t":0.3,"s":0.2,"label":"p<0.001"},{"p":"p8","t":0.3,"s":0.2,"label":"p<0.001"},
{"p":"p9","t":0.2,"s":0.2,"label":"p<0.001"},{"p":"p10","t":0.3,"s":0.2,"label":"p<0.001"},{"p":"p11","t":0.3,"s":0.2,"label":"p=0.006"},{"p":"p12","t":0.3,"s":0.2,"label":"p<0.001"},
{"p":"p13","t":0.3,"s":0.2,"label":"p<0.001"},{"p":"p14","t":0.06,"s":0.2,"label":"p=0.067"},{"p":"p15","t":0.3,"s":0.2,"label":"p<0.001"},{"p":"p16","t":0.3,"s":0.2,"label":"p=0.105"}
],
"risk":[
{"p":"p1","Risk":"high","t":0,"n":48},{"p":"p1","Risk":"high","t":1,"n":33},{"p":"p1","Risk":"high","t":2,"n":13},{"p":"p1","Risk":"high","t":3,"n":8},{"p":"p1","Risk":"high","t":4,"n":6},{"p":"p1","Risk":"high","t":5,"n":4},{"p":"p1","Risk":"high","t":6,"n":2},{"p":"p1","Risk":"high","t":7,"n":2},{"p":"p1","Risk":"high","t":8,"n":0},{"p":"p1","Risk":"high","t":9,"n":0},{"p":"p1","Risk":"high","t":10,"n":0},{"p":"p1","Risk":"high","t":11,"n":0},{"p":"p1","Risk":"high","t":12,"n":0},{"p":"p1","Risk":"high","t":13,"n":0},{"p":"p1","Risk":"high","t":14,"n":0},{"p":"p1","Risk":"high","t":15,"n":0},
{"p":"p1","Risk":"low","t":0,"n":61},{"p":"p1","Risk":"low","t":1,"n":47},{"p":"p1","Risk":"low","t":2,"n":26},{"p":"p1","Risk":"low","t":3,"n":19},{"p":"p1","Risk":"low","t":4,"n":18},{"p":"p1","Risk":"low","t":5,"n":13},{"p":"p1","Risk":"low","t":6,"n":8},{"p":"p1","Risk":"low","t":7,"n":6},{"p":"p1","Risk":"low","t":8,"n":4},{"p":"p1","Risk":"low","t":9,"n":3},{"p":"p1","Risk":"low","t":10,"n":3},{"p":"p1","Risk":"low","t":11,"n":2},{"p":"p1","Risk":"low","t":12,"n":2},{"p":"p1","Risk":"low","t":13,"n":2},{"p":"p1","Risk":"low","t":14,"n":0},{"p":"p1","Risk":"low","t":15,"n":0},
{"p":"p2","Risk":"high","t":0,"n":150},{"p":"p2","Risk":"high","t":1,"n":93},{"p":"p2","Risk":"high","t":2,"n":35},{"p":"p2","Risk":"high","t":3,"n":20},{"p":"p2","Risk":"high","t":4,"n":16},{"p":"p2","Risk":"high","t":5,"n":12},{"p":"p2","Risk":"high","t":6,"n":5},{"p":"p2","Risk":"high","t":7,"n":4},{"p":"p2","Risk":"high","t":8,"n":2},{"p":"p2","Risk":"high","t":9,"n":1},{"p":"p2","Risk":"high","t":10,"n":1},{"p":"p2","Risk":"high","t":11,"n":1},{"p":"p2","Risk":"high","t":12,"n":1},{"p":"p2","Risk":"high","t":13,"n":1},{"p":"p2","Risk":"high","t":14,"n":0},{"p":"p2","Risk":"high","t":15,"n":0},
{"p":"p2","Risk":"low","t":0,"n":134},{"p":"p2","Risk":"low","t":1,"n":108},{"p":"p2","Risk":"low","t":2,"n":58},{"p":"p2","Risk":"low","t":3,"n":35},{"p":"p2","Risk":"low","t":4,"n":24},{"p":"p2","Risk":"low","t":5,"n":16},{"p":"p2","Risk":"low","t":6,"n":10},{"p":"p2","Risk":"low","t":7,"n":7},{"p":"p2","Risk":"low","t":8,"n":5},{"p":"p2","Risk":"low","t":9,"n":3},{"p":"p2","Risk":"low","t":10,"n":2},{"p":"p2","Risk":"low","t":11,"n":0},{"p":"p2","Risk":"low","t":12,"n":0},{"p":"p2","Risk":"low","t":13,"n":0},{"p":"p2","Risk":"low","t":14,"n":0},{"p":"p2","Risk":"low","t":15,"n":0},
{"p":"p3","Risk":"high","t":0,"n":49},{"p":"p3","Risk":"high","t":1,"n":36},{"p":"p3","Risk":"high","t":2,"n":16},{"p":"p3","Risk":"high","t":3,"n":10},{"p":"p3","Risk":"high","t":4,"n":9},{"p":"p3","Risk":"high","t":5,"n":7},{"p":"p3","Risk":"high","t":6,"n":2},{"p":"p3","Risk":"high","t":7,"n":2},{"p":"p3","Risk":"high","t":8,"n":1},{"p":"p3","Risk":"high","t":9,"n":1},{"p":"p3","Risk":"high","t":10,"n":0},
{"p":"p3","Risk":"low","t":0,"n":82},{"p":"p3","Risk":"low","t":1,"n":67},{"p":"p3","Risk":"low","t":2,"n":34},{"p":"p3","Risk":"low","t":3,"n":24},{"p":"p3","Risk":"low","t":4,"n":18},{"p":"p3","Risk":"low","t":5,"n":12},{"p":"p3","Risk":"low","t":6,"n":6},{"p":"p3","Risk":"low","t":7,"n":1},{"p":"p3","Risk":"low","t":8,"n":0},{"p":"p3","Risk":"low","t":9,"n":0},{"p":"p3","Risk":"low","t":10,"n":0},
{"p":"p4","Risk":"high","t":0,"n":153},{"p":"p4","Risk":"high","t":1,"n":92},{"p":"p4","Risk":"high","t":2,"n":33},{"p":"p4","Risk":"high","t":3,"n":19},{"p":"p4","Risk":"high","t":4,"n":14},{"p":"p4","Risk":"high","t":5,"n":10},{"p":"p4","Risk":"high","t":6,"n":6},{"p":"p4","Risk":"high","t":7,"n":5},{"p":"p4","Risk":"high","t":8,"n":2},{"p":"p4","Risk":"high","t":9,"n":1},{"p":"p4","Risk":"high","t":10,"n":1},{"p":"p4","Risk":"high","t":11,"n":1},{"p":"p4","Risk":"high","t":12,"n":1},{"p":"p4","Risk":"high","t":13,"n":1},{"p":"p4","Risk":"high","t":14,"n":0},{"p":"p4","Risk":"high","t":15,"n":0},
{"p":"p4","Risk":"low","t":0,"n":120},{"p":"p4","Risk":"low","t":1,"n":91},{"p":"p4","Risk":"low","t":2,"n":54},{"p":"p4","Risk":"low","t":3,"n":32},{"p":"p4","Risk":"low","t":4,"n":26},{"p":"p4","Risk":"low","t":5,"n":18},{"p":"p4","Risk":"low","t":6,"n":13},{"p":"p4","Risk":"low","t":7,"n":13},{"p":"p4","Risk":"low","t":8,"n":10},{"p":"p4","Risk":"low","t":9,"n":7},{"p":"p4","Risk":"low","t":10,"n":5},{"p":"p4","Risk":"low","t":11,"n":2},{"p":"p4","Risk":"low","t":12,"n":2},{"p":"p4","Risk":"low","t":13,"n":2},{"p":"p4","Risk":"low","t":14,"n":0},{"p":"p4","Risk":"low","t":15,"n":0},
{"p":"p5","Risk":"high","t":0,"n":51},{"p":"p5","Risk":"high","t":1,"n":38},{"p":"p5","Risk":"high","t":2,"n":19},{"p":"p5","Risk":"high","t":3,"n":14},{"p":"p5","Risk":"high","t":4,"n":11},{"p":"p5","Risk":"high","t":5,"n":9},{"p":"p5","Risk":"high","t":6,"n":4},{"p":"p5","Risk":"high","t":7,"n":4},{"p":"p5","Risk":"high","t":8,"n":1},{"p":"p5","Risk":"high","t":9,"n":1},{"p":"p5","Risk":"high","t":10,"n":0},
{"p":"p5","Risk":"low","t":0,"n":70},{"p":"p5","Risk":"low","t":1,"n":57},{"p":"p5","Risk":"low","t":2,"n":31},{"p":"p5","Risk":"low","t":3,"n":21},{"p":"p5","Risk":"low","t":4,"n":17},{"p":"p5","Risk":"low","t":5,"n":11},{"p":"p5","Risk":"low","t":6,"n":5},{"p":"p5","Risk":"low","t":7,"n":0},{"p":"p5","Risk":"low","t":8,"n":0},{"p":"p5","Risk":"low","t":9,"n":0},{"p":"p5","Risk":"low","t":10,"n":0},
{"p":"p6","Risk":"high","t":0,"n":137},{"p":"p6","Risk":"high","t":1,"n":82},{"p":"p6","Risk":"high","t":2,"n":27},{"p":"p6","Risk":"high","t":3,"n":13},{"p":"p6","Risk":"high","t":4,"n":10},{"p":"p6","Risk":"high","t":5,"n":7},{"p":"p6","Risk":"high","t":6,"n":4},{"p":"p6","Risk":"high","t":7,"n":3},{"p":"p6","Risk":"high","t":8,"n":2},{"p":"p6","Risk":"high","t":9,"n":1},{"p":"p6","Risk":"high","t":10,"n":1},{"p":"p6","Risk":"high","t":11,"n":1},{"p":"p6","Risk":"high","t":12,"n":1},{"p":"p6","Risk":"high","t":13,"n":1},{"p":"p6","Risk":"high","t":14,"n":0},{"p":"p6","Risk":"high","t":15,"n":0},
{"p":"p6","Risk":"low","t":0,"n":114},{"p":"p6","Risk":"low","t":1,"n":86},{"p":"p6","Risk":"low","t":2,"n":53},{"p":"p6","Risk":"low","t":3,"n":32},{"p":"p6","Risk":"low","t":4,"n":26},{"p":"p6","Risk":"low","t":5,"n":18},{"p":"p6","Risk":"low","t":6,"n":13},{"p":"p6","Risk":"low","t":7,"n":13},{"p":"p6","Risk":"low","t":8,"n":10},{"p":"p6","Risk":"low","t":9,"n":7},{"p":"p6","Risk":"low","t":10,"n":5},{"p":"p6","Risk":"low","t":11,"n":2},{"p":"p6","Risk":"low","t":12,"n":2},{"p":"p6","Risk":"low","t":13,"n":2},{"p":"p6","Risk":"low","t":14,"n":0},{"p":"p6","Risk":"low","t":15,"n":0},
{"p":"p7","Risk":"high","t":0,"n":73},{"p":"p7","Risk":"high","t":1,"n":54},{"p":"p7","Risk":"high","t":2,"n":17},{"p":"p7","Risk":"high","t":3,"n":13},{"p":"p7","Risk":"high","t":4,"n":11},{"p":"p7","Risk":"high","t":5,"n":9},{"p":"p7","Risk":"high","t":6,"n":3},{"p":"p7","Risk":"high","t":7,"n":2},{"p":"p7","Risk":"high","t":8,"n":0},{"p":"p7","Risk":"high","t":9,"n":0},{"p":"p7","Risk":"high","t":10,"n":0},{"p":"p7","Risk":"high","t":11,"n":0},{"p":"p7","Risk":"high","t":12,"n":0},{"p":"p7","Risk":"high","t":13,"n":0},{"p":"p7","Risk":"high","t":14,"n":0},{"p":"p7","Risk":"high","t":15,"n":0},
{"p":"p7","Risk":"low","t":0,"n":87},{"p":"p7","Risk":"low","t":1,"n":76},{"p":"p7","Risk":"low","t":2,"n":41},{"p":"p7","Risk":"low","t":3,"n":24},{"p":"p7","Risk":"low","t":4,"n":18},{"p":"p7","Risk":"low","t":5,"n":12},{"p":"p7","Risk":"low","t":6,"n":6},{"p":"p7","Risk":"low","t":7,"n":5},{"p":"p7","Risk":"low","t":8,"n":4},{"p":"p7","Risk":"low","t":9,"n":3},{"p":"p7","Risk":"low","t":10,"n":2},{"p":"p7","Risk":"low","t":11,"n":1},{"p":"p7","Risk":"low","t":12,"n":1},{"p":"p7","Risk":"low","t":13,"n":1},{"p":"p7","Risk":"low","t":14,"n":0},{"p":"p7","Risk":"low","t":15,"n":0},
{"p":"p8","Risk":"high","t":0,"n":130},{"p":"p8","Risk":"high","t":1,"n":75},{"p":"p8","Risk":"high","t":2,"n":33},{"p":"p8","Risk":"high","t":3,"n":17},{"p":"p8","Risk":"high","t":4,"n":12},{"p":"p8","Risk":"high","t":5,"n":8},{"p":"p8","Risk":"high","t":6,"n":5},{"p":"p8","Risk":"high","t":7,"n":5},{"p":"p8","Risk":"high","t":8,"n":3},{"p":"p8","Risk":"high","t":9,"n":2},{"p":"p8","Risk":"high","t":10,"n":1},{"p":"p8","Risk":"high","t":11,"n":1},{"p":"p8","Risk":"high","t":12,"n":1},{"p":"p8","Risk":"high","t":13,"n":1},{"p":"p8","Risk":"high","t":14,"n":0},{"p":"p8","Risk":"high","t":15,"n":0},
{"p":"p8","Risk":"low","t":0,"n":116},{"p":"p8","Risk":"low","t":1,"n":83},{"p":"p8","Risk":"low","t":2,"n":47},{"p":"p8","Risk":"low","t":3,"n":32},{"p":"p8","Risk":"low","t":4,"n":26},{"p":"p8","Risk":"low","t":5,"n":18},{"p":"p8","Risk":"low","t":6,"n":13},{"p":"p8","Risk":"low","t":7,"n":9},{"p":"p8","Risk":"low","t":8,"n":6},{"p":"p8","Risk":"low","t":9,"n":4},{"p":"p8","Risk":"low","t":10,"n":3},{"p":"p8","Risk":"low","t":11,"n":1},{"p":"p8","Risk":"low","t":12,"n":1},{"p":"p8","Risk":"low","t":13,"n":1},{"p":"p8","Risk":"low","t":14,"n":0},{"p":"p8","Risk":"low","t":15,"n":0},
{"p":"p9","Risk":"high","t":0,"n":98},{"p":"p9","Risk":"high","t":1,"n":68},{"p":"p9","Risk":"high","t":2,"n":28},{"p":"p9","Risk":"high","t":3,"n":19},{"p":"p9","Risk":"high","t":4,"n":14},{"p":"p9","Risk":"high","t":5,"n":11},{"p":"p9","Risk":"high","t":6,"n":3},{"p":"p9","Risk":"high","t":7,"n":2},{"p":"p9","Risk":"high","t":8,"n":1},{"p":"p9","Risk":"high","t":9,"n":0},{"p":"p9","Risk":"high","t":10,"n":0},
{"p":"p9","Risk":"low","t":0,"n":147},{"p":"p9","Risk":"low","t":1,"n":113},{"p":"p9","Risk":"low","t":2,"n":59},{"p":"p9","Risk":"low","t":3,"n":37},{"p":"p9","Risk":"low","t":4,"n":28},{"p":"p9","Risk":"low","t":5,"n":20},{"p":"p9","Risk":"low","t":6,"n":12},{"p":"p9","Risk":"low","t":7,"n":9},{"p":"p9","Risk":"low","t":8,"n":6},{"p":"p9","Risk":"low","t":9,"n":3},{"p":"p9","Risk":"low","t":10,"n":1},
{"p":"p10","Risk":"high","t":0,"n":105},{"p":"p10","Risk":"high","t":1,"n":61},{"p":"p10","Risk":"high","t":2,"n":22},{"p":"p10","Risk":"high","t":3,"n":11},{"p":"p10","Risk":"high","t":4,"n":9},{"p":"p10","Risk":"high","t":5,"n":6},{"p":"p10","Risk":"high","t":6,"n":5},{"p":"p10","Risk":"high","t":7,"n":5},{"p":"p10","Risk":"high","t":8,"n":2},{"p":"p10","Risk":"high","t":9,"n":2},{"p":"p10","Risk":"high","t":10,"n":1},{"p":"p10","Risk":"high","t":11,"n":1},{"p":"p10","Risk":"high","t":12,"n":1},{"p":"p10","Risk":"high","t":13,"n":1},{"p":"p10","Risk":"high","t":14,"n":0},{"p":"p10","Risk":"high","t":15,"n":0},
{"p":"p10","Risk":"low","t":0,"n":56},{"p":"p10","Risk":"low","t":1,"n":46},{"p":"p10","Risk":"low","t":2,"n":29},{"p":"p10","Risk":"low","t":3,"n":19},{"p":"p10","Risk":"low","t":4,"n":16},{"p":"p10","Risk":"low","t":5,"n":10},{"p":"p10","Risk":"low","t":6,"n":7},{"p":"p10","Risk":"low","t":7,"n":5},{"p":"p10","Risk":"low","t":8,"n":4},{"p":"p10","Risk":"low","t":9,"n":4},{"p":"p10","Risk":"low","t":10,"n":4},{"p":"p10","Risk":"low","t":11,"n":2},{"p":"p10","Risk":"low","t":12,"n":2},{"p":"p10","Risk":"low","t":13,"n":2},{"p":"p10","Risk":"low","t":14,"n":0},{"p":"p10","Risk":"low","t":15,"n":0},
{"p":"p11","Risk":"high","t":0,"n":64},{"p":"p11","Risk":"high","t":1,"n":40},{"p":"p11","Risk":"high","t":2,"n":18},{"p":"p11","Risk":"high","t":3,"n":12},{"p":"p11","Risk":"high","t":4,"n":9},{"p":"p11","Risk":"high","t":5,"n":8},{"p":"p11","Risk":"high","t":6,"n":3},{"p":"p11","Risk":"high","t":7,"n":2},{"p":"p11","Risk":"high","t":8,"n":1},{"p":"p11","Risk":"high","t":9,"n":1},{"p":"p11","Risk":"high","t":10,"n":0},{"p":"p11","Risk":"high","t":11,"n":0},{"p":"p11","Risk":"high","t":12,"n":0},{"p":"p11","Risk":"high","t":13,"n":0},{"p":"p11","Risk":"high","t":14,"n":0},{"p":"p11","Risk":"high","t":15,"n":0},
{"p":"p11","Risk":"low","t":0,"n":43},{"p":"p11","Risk":"low","t":1,"n":32},{"p":"p11","Risk":"low","t":2,"n":16},{"p":"p11","Risk":"low","t":3,"n":13},{"p":"p11","Risk":"low","t":4,"n":11},{"p":"p11","Risk":"low","t":5,"n":7},{"p":"p11","Risk":"low","t":6,"n":5},{"p":"p11","Risk":"low","t":7,"n":2},{"p":"p11","Risk":"low","t":8,"n":2},{"p":"p11","Risk":"low","t":9,"n":1},{"p":"p11","Risk":"low","t":10,"n":1},{"p":"p11","Risk":"low","t":11,"n":1},{"p":"p11","Risk":"low","t":12,"n":1},{"p":"p11","Risk":"low","t":13,"n":1},{"p":"p11","Risk":"low","t":14,"n":0},{"p":"p11","Risk":"low","t":15,"n":0},
{"p":"p12","Risk":"high","t":0,"n":139},{"p":"p12","Risk":"high","t":1,"n":89},{"p":"p12","Risk":"high","t":2,"n":32},{"p":"p12","Risk":"high","t":3,"n":18},{"p":"p12","Risk":"high","t":4,"n":14},{"p":"p12","Risk":"high","t":5,"n":9},{"p":"p12","Risk":"high","t":6,"n":5},{"p":"p12","Risk":"high","t":7,"n":5},{"p":"p12","Risk":"high","t":8,"n":2},{"p":"p12","Risk":"high","t":9,"n":1},{"p":"p12","Risk":"high","t":10,"n":1},{"p":"p12","Risk":"high","t":11,"n":1},{"p":"p12","Risk":"high","t":12,"n":1},{"p":"p12","Risk":"high","t":13,"n":1},{"p":"p12","Risk":"high","t":14,"n":0},{"p":"p12","Risk":"high","t":15,"n":0},
{"p":"p12","Risk":"low","t":0,"n":160},{"p":"p12","Risk":"low","t":1,"n":127},{"p":"p12","Risk":"low","t":2,"n":72},{"p":"p12","Risk":"low","t":3,"n":43},{"p":"p12","Risk":"low","t":4,"n":33},{"p":"p12","Risk":"low","t":5,"n":23},{"p":"p12","Risk":"low","t":6,"n":14},{"p":"p12","Risk":"low","t":7,"n":12},{"p":"p12","Risk":"low","t":8,"n":8},{"p":"p12","Risk":"low","t":9,"n":6},{"p":"p12","Risk":"low","t":10,"n":4},{"p":"p12","Risk":"low","t":11,"n":1},{"p":"p12","Risk":"low","t":12,"n":1},{"p":"p12","Risk":"low","t":13,"n":1},{"p":"p12","Risk":"low","t":14,"n":0},{"p":"p12","Risk":"low","t":15,"n":0},
{"p":"p13","Risk":"high","t":0,"n":193},{"p":"p13","Risk":"high","t":1,"n":126},{"p":"p13","Risk":"high","t":2,"n":50},{"p":"p13","Risk":"high","t":3,"n":30},{"p":"p13","Risk":"high","t":4,"n":23},{"p":"p13","Risk":"high","t":5,"n":17},{"p":"p13","Risk":"high","t":6,"n":8},{"p":"p13","Risk":"high","t":7,"n":7},{"p":"p13","Risk":"high","t":8,"n":3},{"p":"p13","Risk":"high","t":9,"n":2},{"p":"p13","Risk":"high","t":10,"n":1},{"p":"p13","Risk":"high","t":11,"n":1},{"p":"p13","Risk":"high","t":12,"n":1},{"p":"p13","Risk":"high","t":13,"n":1},{"p":"p13","Risk":"high","t":14,"n":0},{"p":"p13","Risk":"high","t":15,"n":0},
{"p":"p13","Risk":"low","t":0,"n":199},{"p":"p13","Risk":"low","t":1,"n":155},{"p":"p13","Risk":"low","t":2,"n":87},{"p":"p13","Risk":"low","t":3,"n":56},{"p":"p13","Risk":"low","t":4,"n":44},{"p":"p13","Risk":"low","t":5,"n":30},{"p":"p13","Risk":"low","t":6,"n":19},{"p":"p13","Risk":"low","t":7,"n":14},{"p":"p13","Risk":"low","t":8,"n":10},{"p":"p13","Risk":"low","t":9,"n":7},{"p":"p13","Risk":"low","t":10,"n":5},{"p":"p13","Risk":"low","t":11,"n":2},{"p":"p13","Risk":"low","t":12,"n":2},{"p":"p13","Risk":"low","t":13,"n":2},{"p":"p13","Risk":"low","t":14,"n":0},{"p":"p13","Risk":"low","t":15,"n":0},
{"p":"p14","Risk":"high","t":0,"n":8},{"p":"p14","Risk":"high","t":1,"n":3},{"p":"p14","Risk":"high","t":2,"n":0},{"p":"p14","Risk":"high","t":3,"n":0},
{"p":"p14","Risk":"low","t":0,"n":3},{"p":"p14","Risk":"low","t":1,"n":3},{"p":"p14","Risk":"low","t":2,"n":1},{"p":"p14","Risk":"low","t":3,"n":0},
{"p":"p15","Risk":"high","t":0,"n":122},{"p":"p15","Risk":"high","t":1,"n":80},{"p":"p15","Risk":"high","t":2,"n":30},{"p":"p15","Risk":"high","t":3,"n":18},{"p":"p15","Risk":"high","t":4,"n":16},{"p":"p15","Risk":"high","t":5,"n":12},{"p":"p15","Risk":"high","t":6,"n":5},{"p":"p15","Risk":"high","t":7,"n":4},{"p":"p15","Risk":"high","t":8,"n":2},{"p":"p15","Risk":"high","t":9,"n":1},{"p":"p15","Risk":"high","t":10,"n":0},{"p":"p15","Risk":"high","t":11,"n":0},{"p":"p15","Risk":"high","t":12,"n":0},{"p":"p15","Risk":"high","t":13,"n":0},{"p":"p15","Risk":"high","t":14,"n":0},{"p":"p15","Risk":"high","t":15,"n":0},
{"p":"p15","Risk":"low","t":0,"n":150},{"p":"p15","Risk":"low","t":1,"n":124},{"p":"p15","Risk":"low","t":2,"n":67},{"p":"p15","Risk":"low","t":3,"n":44},{"p":"p15","Risk":"low","t":4,"n":34},{"p":"p15","Risk":"low","t":5,"n":23},{"p":"p15","Risk":"low","t":6,"n":16},{"p":"p15","Risk":"low","t":7,"n":11},{"p":"p15","Risk":"low","t":8,"n":9},{"p":"p15","Risk":"low","t":9,"n":6},{"p":"p15","Risk":"low","t":10,"n":5},{"p":"p15","Risk":"low","t":11,"n":2},{"p":"p15","Risk":"low","t":12,"n":2},{"p":"p15","Risk":"low","t":13,"n":2},{"p":"p15","Risk":"low","t":14,"n":0},{"p":"p15","Risk":"low","t":15,"n":0},
{"p":"p16","Risk":"high","t":0,"n":78},{"p":"p16","Risk":"high","t":1,"n":49},{"p":"p16","Risk":"high","t":2,"n":20},{"p":"p16","Risk":"high","t":3,"n":12},{"p":"p16","Risk":"high","t":4,"n":7},{"p":"p16","Risk":"high","t":5,"n":5},{"p":"p16","Risk":"high","t":6,"n":3},{"p":"p16","Risk":"high","t":7,"n":3},{"p":"p16","Risk":"high","t":8,"n":1},{"p":"p16","Risk":"high","t":9,"n":1},{"p":"p16","Risk":"high","t":10,"n":1},{"p":"p16","Risk":"high","t":11,"n":1},{"p":"p16","Risk":"high","t":12,"n":1},{"p":"p16","Risk":"high","t":13,"n":1},{"p":"p16","Risk":"high","t":14,"n":0},{"p":"p16","Risk":"high","t":15,"n":0},
{"p":"p16","Risk":"low","t":0,"n":50},{"p":"p16","Risk":"low","t":1,"n":32},{"p":"p16","Risk":"low","t":2,"n":20},{"p":"p16","Risk":"low","t":3,"n":11},{"p":"p16","Risk":"low","t":4,"n":9},{"p":"p16","Risk":"low","t":5,"n":6},{"p":"p16","Risk":"low","t":6,"n":2},{"p":"p16","Risk":"low","t":7,"n":2},{"p":"p16","Risk":"low","t":8,"n":1},{"p":"p16","Risk":"low","t":9,"n":1},{"p":"p16","Risk":"low","t":10,"n":0},{"p":"p16","Risk":"low","t":11,"n":0},{"p":"p16","Risk":"low","t":12,"n":0},{"p":"p16","Risk":"low","t":13,"n":0},{"p":"p16","Risk":"low","t":14,"n":0},{"p":"p16","Risk":"low","t":15,"n":0}
]
},
"spacing":62,
"resolve":{"scale":{"color":"independent","stroke":"independent"},"legend":{"color":"independent"}},
"hconcat":[
{"spacing":0,"resolve":{"scale":{"color":"independent","stroke":"independent"},"legend":{"color":"independent"}},"vconcat":[
{"spacing":1.4,"resolve":{"scale":{"color":"independent","stroke":"independent"},"legend":{"color":"independent"}},"vconcat":[
{"spacing":10.9,"resolve":{"scale":{"color":"independent","stroke":"independent"},"legend":{"color":"independent"}},"vconcat":[
 {"title":{"text":"A","fontSize":47,"anchor":"start","frame":"bounds","dx":-19,"offset":-50},"spacing":32,"resolve":{"scale":{"color":"independent","stroke":"independent"},"legend":{"color":"independent"}},"hconcat":[
  {"spacing":30,"resolve":{"scale":{"color":"independent","stroke":"independent"},"legend":{"color":"independent"}},"vconcat":[
   {"title":"Patients with No Smoked","width":386,"height":168,"encoding":{"x":{"field":"t","type":"quantitative","title":"Time(years)","scale":{"domain":[-0.75,15.75],"nice":false},"axis":{"values":[0,1,2,3,4,5,6,7,8,9,10,11,12,13,14,15]}},"y":{"field":"s","type":"quantitative","scale":{"domain":[-0.05,1.05],"nice":false},"axis":{"values":[0,0.25,0.5,0.75,1],"format":".2f","title":"Survival probability"}}},"layer":[
    {"data":{"name":"curves"},"transform":[{"filter":"datum.p==='p1'"}],"mark":"line","encoding":{"color":{"field":"Risk","type":"nominal"}}},
    {"data":{"name":"censors"},"transform":[{"filter":"datum.p==='p1'"}],"mark":"point","encoding":{"stroke":{"field":"Risk","type":"nominal","legend":null}}},
    {"data":{"name":"pvals"},"transform":[{"filter":"datum.p==='p1'"}],"mark":{"type":"text","fontSize":17,"align":"left","baseline":"middle"},"encoding":{"text":{"field":"label"}}}]},
   {"width":386,"height":27,"data":{"name":"risk"},"transform":[{"filter":"datum.p==='p1'"}],"mark":"text","encoding":{"x":{"field":"t","type":"quantitative","title":"Time(years)","scale":{"domain":[-0.75,15.75],"nice":false},"axis":{"values":[0,1,2,3,4,5,6,7,8,9,10,11,12,13,14,15]}},"y":{"field":"Risk","type":"nominal","scale":{"type":"point","padding":0.6},"axis":{"labelColor":{"condition":{"test":"datum.value==='high'","value":"#FF0000"},"value":"#0000FF"},"labelFontSize":12}},"text":{"field":"n"},"color":{"field":"Risk","type":"nominal","legend":null}}}]},
  {"spacing":30,"resolve":{"scale":{"color":"independent","stroke":"independent"},"legend":{"color":"independent"}},"vconcat":[
   {"title":"Patients with Smoked","width":386,"height":168,"encoding":{"x":{"field":"t","type":"quantitative","title":"Time(years)","scale":{"domain":[-0.75,15.75],"nice":false},"axis":{"values":[0,1,2,3,4,5,6,7,8,9,10,11,12,13,14,15]}},"y":{"field":"s","type":"quantitative","scale":{"domain":[-0.05,1.05],"nice":false},"axis":{"values":[0,0.25,0.5,0.75,1],"format":".2f","title":"Survival probability"}}},"layer":[
    {"data":{"name":"curves"},"transform":[{"filter":"datum.p==='p2'"}],"mark":"line","encoding":{"color":{"field":"Risk","type":"nominal"}}},
    {"data":{"name":"censors"},"transform":[{"filter":"datum.p==='p2'"}],"mark":"point","encoding":{"stroke":{"field":"Risk","type":"nominal","legend":null}}},
    {"data":{"name":"pvals"},"transform":[{"filter":"datum.p==='p2'"}],"mark":{"type":"text","fontSize":17,"align":"left","baseline":"middle"},"encoding":{"text":{"field":"label"}}}]},
   {"width":386,"height":27,"data":{"name":"risk"},"transform":[{"filter":"datum.p==='p2'"}],"mark":"text","encoding":{"x":{"field":"t","type":"quantitative","title":"Time(years)","scale":{"domain":[-0.75,15.75],"nice":false},"axis":{"values":[0,1,2,3,4,5,6,7,8,9,10,11,12,13,14,15]}},"y":{"field":"Risk","type":"nominal","scale":{"type":"point","padding":0.6},"axis":{"labelColor":{"condition":{"test":"datum.value==='high'","value":"#FF0000"},"value":"#0000FF"},"labelFontSize":12}},"text":{"field":"n"},"color":{"field":"Risk","type":"nominal","legend":null}}}]}
 ]},
 {"title":{"text":"C","fontSize":47,"anchor":"start","frame":"bounds","dx":-19,"offset":-35.5},"spacing":32,"resolve":{"scale":{"color":"independent","stroke":"independent"},"legend":{"color":"independent"}},"hconcat":[
  {"spacing":30,"resolve":{"scale":{"color":"independent","stroke":"independent"},"legend":{"color":"independent"}},"vconcat":[
   {"title":"Patients with T1−2","width":386,"height":168,"encoding":{"x":{"field":"t","type":"quantitative","title":"Time(years)","scale":{"domain":[-0.5,10.5],"nice":false},"axis":{"values":[0,1,2,3,4,5,6,7,8,9,10]}},"y":{"field":"s","type":"quantitative","scale":{"domain":[-0.05,1.05],"nice":false},"axis":{"values":[0,0.25,0.5,0.75,1],"format":".2f","title":"Survival probability"}}},"layer":[
    {"data":{"name":"curves"},"transform":[{"filter":"datum.p==='p5'"}],"mark":"line","encoding":{"color":{"field":"Risk","type":"nominal"}}},
    {"data":{"name":"censors"},"transform":[{"filter":"datum.p==='p5'"}],"mark":"point","encoding":{"stroke":{"field":"Risk","type":"nominal","legend":null}}},
    {"data":{"name":"pvals"},"transform":[{"filter":"datum.p==='p5'"}],"mark":{"type":"text","fontSize":17,"align":"left","baseline":"middle"},"encoding":{"text":{"field":"label"}}}]},
   {"width":386,"height":27,"data":{"name":"risk"},"transform":[{"filter":"datum.p==='p5'"}],"mark":"text","encoding":{"x":{"field":"t","type":"quantitative","title":"Time(years)","scale":{"domain":[-0.5,10.5],"nice":false},"axis":{"values":[0,1,2,3,4,5,6,7,8,9,10]}},"y":{"field":"Risk","type":"nominal","scale":{"type":"point","padding":0.6},"axis":{"labelColor":{"condition":{"test":"datum.value==='high'","value":"#FF0000"},"value":"#0000FF"},"labelFontSize":12}},"text":{"field":"n"},"color":{"field":"Risk","type":"nominal","legend":null}}}]},
  {"spacing":30,"resolve":{"scale":{"color":"independent","stroke":"independent"},"legend":{"color":"independent"}},"vconcat":[
   {"title":"Patients with T3−4","width":386,"height":168,"encoding":{"x":{"field":"t","type":"quantitative","title":"Time(years)","scale":{"domain":[-0.75,15.75],"nice":false},"axis":{"values":[0,1,2,3,4,5,6,7,8,9,10,11,12,13,14,15]}},"y":{"field":"s","type":"quantitative","scale":{"domain":[-0.05,1.05],"nice":false},"axis":{"values":[0,0.25,0.5,0.75,1],"format":".2f","title":"Survival probability"}}},"layer":[
    {"data":{"name":"curves"},"transform":[{"filter":"datum.p==='p6'"}],"mark":"line","encoding":{"color":{"field":"Risk","type":"nominal"}}},
    {"data":{"name":"censors"},"transform":[{"filter":"datum.p==='p6'"}],"mark":"point","encoding":{"stroke":{"field":"Risk","type":"nominal","legend":null}}},
    {"data":{"name":"pvals"},"transform":[{"filter":"datum.p==='p6'"}],"mark":{"type":"text","fontSize":17,"align":"left","baseline":"middle"},"encoding":{"text":{"field":"label"}}}]},
   {"width":386,"height":27,"data":{"name":"risk"},"transform":[{"filter":"datum.p==='p6'"}],"mark":"text","encoding":{"x":{"field":"t","type":"quantitative","title":"Time(years)","scale":{"domain":[-0.75,15.75],"nice":false},"axis":{"values":[0,1,2,3,4,5,6,7,8,9,10,11,12,13,14,15]}},"y":{"field":"Risk","type":"nominal","scale":{"type":"point","padding":0.6},"axis":{"labelColor":{"condition":{"test":"datum.value==='high'","value":"#FF0000"},"value":"#0000FF"},"labelFontSize":12}},"text":{"field":"n"},"color":{"field":"Risk","type":"nominal","legend":null}}}]}
 ]}
]},
 {"title":{"text":"E","fontSize":47,"anchor":"start","frame":"bounds","dx":-19,"offset":-26},"spacing":32,"resolve":{"scale":{"color":"independent","stroke":"independent"},"legend":{"color":"independent"}},"hconcat":[
  {"spacing":30,"resolve":{"scale":{"color":"independent","stroke":"independent"},"legend":{"color":"independent"}},"vconcat":[
   {"title":"Patients with Cluster1","width":386,"height":168,"encoding":{"x":{"field":"t","type":"quantitative","title":"Time(years)","scale":{"domain":[-0.5,10.5],"nice":false},"axis":{"values":[0,1,2,3,4,5,6,7,8,9,10]}},"y":{"field":"s","type":"quantitative","scale":{"domain":[-0.05,1.05],"nice":false},"axis":{"values":[0,0.25,0.5,0.75,1],"format":".2f","title":"Survival probability"}}},"layer":[
    {"data":{"name":"curves"},"transform":[{"filter":"datum.p==='p9'"}],"mark":"line","encoding":{"color":{"field":"Risk","type":"nominal"}}},
    {"data":{"name":"censors"},"transform":[{"filter":"datum.p==='p9'"}],"mark":"point","encoding":{"stroke":{"field":"Risk","type":"nominal","legend":null}}},
    {"data":{"name":"pvals"},"transform":[{"filter":"datum.p==='p9'"}],"mark":{"type":"text","fontSize":17,"align":"left","baseline":"middle"},"encoding":{"text":{"field":"label"}}}]},
   {"width":386,"height":27,"data":{"name":"risk"},"transform":[{"filter":"datum.p==='p9'"}],"mark":"text","encoding":{"x":{"field":"t","type":"quantitative","title":"Time(years)","scale":{"domain":[-0.5,10.5],"nice":false},"axis":{"values":[0,1,2,3,4,5,6,7,8,9,10]}},"y":{"field":"Risk","type":"nominal","scale":{"type":"point","padding":0.6},"axis":{"labelColor":{"condition":{"test":"datum.value==='high'","value":"#FF0000"},"value":"#0000FF"},"labelFontSize":12}},"text":{"field":"n"},"color":{"field":"Risk","type":"nominal","legend":null}}}]},
  {"spacing":30,"resolve":{"scale":{"color":"independent","stroke":"independent"},"legend":{"color":"independent"}},"vconcat":[
   {"title":"Patients with Cluster2","width":386,"height":168,"encoding":{"x":{"field":"t","type":"quantitative","title":"Time(years)","scale":{"domain":[-0.75,15.75],"nice":false},"axis":{"values":[0,1,2,3,4,5,6,7,8,9,10,11,12,13,14,15]}},"y":{"field":"s","type":"quantitative","scale":{"domain":[-0.05,1.05],"nice":false},"axis":{"values":[0,0.25,0.5,0.75,1],"format":".2f","title":"Survival probability"}}},"layer":[
    {"data":{"name":"curves"},"transform":[{"filter":"datum.p==='p10'"}],"mark":"line","encoding":{"color":{"field":"Risk","type":"nominal"}}},
    {"data":{"name":"censors"},"transform":[{"filter":"datum.p==='p10'"}],"mark":"point","encoding":{"stroke":{"field":"Risk","type":"nominal","legend":null}}},
    {"data":{"name":"pvals"},"transform":[{"filter":"datum.p==='p10'"}],"mark":{"type":"text","fontSize":17,"align":"left","baseline":"middle"},"encoding":{"text":{"field":"label"}}}]},
   {"width":386,"height":27,"data":{"name":"risk"},"transform":[{"filter":"datum.p==='p10'"}],"mark":"text","encoding":{"x":{"field":"t","type":"quantitative","title":"Time(years)","scale":{"domain":[-0.75,15.75],"nice":false},"axis":{"values":[0,1,2,3,4,5,6,7,8,9,10,11,12,13,14,15]}},"y":{"field":"Risk","type":"nominal","scale":{"type":"point","padding":0.6},"axis":{"labelColor":{"condition":{"test":"datum.value==='high'","value":"#FF0000"},"value":"#0000FF"},"labelFontSize":12}},"text":{"field":"n"},"color":{"field":"Risk","type":"nominal","legend":null}}}]}
 ]}
]},
 {"title":{"text":"G","fontSize":47,"anchor":"start","frame":"bounds","dx":-19,"offset":-37.6},"spacing":32,"resolve":{"scale":{"color":"independent","stroke":"independent"},"legend":{"color":"independent"}},"hconcat":[
  {"spacing":30,"resolve":{"scale":{"color":"independent","stroke":"independent"},"legend":{"color":"independent"}},"vconcat":[
   {"title":"Patients with M0−MX","width":386,"height":168,"encoding":{"x":{"field":"t","type":"quantitative","title":"Time(years)","scale":{"domain":[-0.75,15.75],"nice":false},"axis":{"values":[0,1,2,3,4,5,6,7,8,9,10,11,12,13,14,15]}},"y":{"field":"s","type":"quantitative","scale":{"domain":[-0.05,1.05],"nice":false},"axis":{"values":[0,0.25,0.5,0.75,1],"format":".2f","title":"Survival probability"}}},"layer":[
    {"data":{"name":"curves"},"transform":[{"filter":"datum.p==='p13'"}],"mark":"line","encoding":{"color":{"field":"Risk","type":"nominal"}}},
    {"data":{"name":"censors"},"transform":[{"filter":"datum.p==='p13'"}],"mark":"point","encoding":{"stroke":{"field":"Risk","type":"nominal","legend":null}}},
    {"data":{"name":"pvals"},"transform":[{"filter":"datum.p==='p13'"}],"mark":{"type":"text","fontSize":17,"align":"left","baseline":"middle"},"encoding":{"text":{"field":"label"}}}]},
   {"width":386,"height":27,"data":{"name":"risk"},"transform":[{"filter":"datum.p==='p13'"}],"mark":"text","encoding":{"x":{"field":"t","type":"quantitative","title":"Time(years)","scale":{"domain":[-0.75,15.75],"nice":false},"axis":{"values":[0,1,2,3,4,5,6,7,8,9,10,11,12,13,14,15]}},"y":{"field":"Risk","type":"nominal","scale":{"type":"point","padding":0.6},"axis":{"labelColor":{"condition":{"test":"datum.value==='high'","value":"#FF0000"},"value":"#0000FF"},"labelFontSize":12}},"text":{"field":"n"},"color":{"field":"Risk","type":"nominal","legend":null}}}]},
  {"spacing":30,"resolve":{"scale":{"color":"independent","stroke":"independent"},"legend":{"color":"independent"}},"vconcat":[
   {"title":"Patients with M1","width":386,"height":168,"encoding":{"x":{"field":"t","type":"quantitative","title":"Time(years)","scale":{"domain":[-0.15,3.15],"nice":false},"axis":{"values":[0,1,2,3]}},"y":{"field":"s","type":"quantitative","scale":{"domain":[-0.05,1.05],"nice":false},"axis":{"values":[0,0.25,0.5,0.75,1],"format":".2f","title":"Survival probability"}}},"layer":[
    {"data":{"name":"curves"},"transform":[{"filter":"datum.p==='p14'"}],"mark":"line","encoding":{"color":{"field":"Risk","type":"nominal"}}},
    {"data":{"name":"censors"},"transform":[{"filter":"datum.p==='p14'"}],"mark":"point","encoding":{"stroke":{"field":"Risk","type":"nominal","legend":null}}},
    {"data":{"name":"pvals"},"transform":[{"filter":"datum.p==='p14'"}],"mark":{"type":"text","fontSize":17,"align":"left","baseline":"middle"},"encoding":{"text":{"field":"label"}}}]},
   {"width":386,"height":27,"data":{"name":"risk"},"transform":[{"filter":"datum.p==='p14'"}],"mark":"text","encoding":{"x":{"field":"t","type":"quantitative","title":"Time(years)","scale":{"domain":[-0.15,3.15],"nice":false},"axis":{"values":[0,1,2,3]}},"y":{"field":"Risk","type":"nominal","scale":{"type":"point","padding":0.6},"axis":{"labelColor":{"condition":{"test":"datum.value==='high'","value":"#FF0000"},"value":"#0000FF"},"labelFontSize":12}},"text":{"field":"n"},"color":{"field":"Risk","type":"nominal","legend":null}}}]}
 ]}
]},
{"spacing":0,"resolve":{"scale":{"color":"independent","stroke":"independent"},"legend":{"color":"independent"}},"vconcat":[
{"spacing":17.2,"resolve":{"scale":{"color":"independent","stroke":"independent"},"legend":{"color":"independent"}},"vconcat":[
{"spacing":8.2,"resolve":{"scale":{"color":"independent","stroke":"independent"},"legend":{"color":"independent"}},"vconcat":[
 {"title":{"text":"B","fontSize":47,"anchor":"start","frame":"bounds","dx":-40,"offset":-50},"spacing":42,"resolve":{"scale":{"color":"independent","stroke":"independent"},"legend":{"color":"independent"}},"hconcat":[
  {"spacing":30,"resolve":{"scale":{"color":"independent","stroke":"independent"},"legend":{"color":"independent"}},"vconcat":[
   {"title":"Patients with Stage I−II","width":386,"height":168,"encoding":{"x":{"field":"t","type":"quantitative","title":"Time(years)","scale":{"domain":[-0.5,10.5],"nice":false},"axis":{"values":[0,1,2,3,4,5,6,7,8,9,10]}},"y":{"field":"s","type":"quantitative","scale":{"domain":[-0.05,1.05],"nice":false},"axis":{"values":[0,0.25,0.5,0.75,1],"format":".2f","title":"Survival probability"}}},"layer":[
    {"data":{"name":"curves"},"transform":[{"filter":"datum.p==='p3'"}],"mark":"line","encoding":{"color":{"field":"Risk","type":"nominal"}}},
    {"data":{"name":"censors"},"transform":[{"filter":"datum.p==='p3'"}],"mark":"point","encoding":{"stroke":{"field":"Risk","type":"nominal","legend":null}}},
    {"data":{"name":"pvals"},"transform":[{"filter":"datum.p==='p3'"}],"mark":{"type":"text","fontSize":17,"align":"left","baseline":"middle"},"encoding":{"text":{"field":"label"}}}]},
   {"width":386,"height":27,"data":{"name":"risk"},"transform":[{"filter":"datum.p==='p3'"}],"mark":"text","encoding":{"x":{"field":"t","type":"quantitative","title":"Time(years)","scale":{"domain":[-0.5,10.5],"nice":false},"axis":{"values":[0,1,2,3,4,5,6,7,8,9,10]}},"y":{"field":"Risk","type":"nominal","scale":{"type":"point","padding":0.6},"axis":{"labelColor":{"condition":{"test":"datum.value==='high'","value":"#FF0000"},"value":"#0000FF"},"labelFontSize":12}},"text":{"field":"n"},"color":{"field":"Risk","type":"nominal","legend":null}}}]},
  {"spacing":30,"resolve":{"scale":{"color":"independent","stroke":"independent"},"legend":{"color":"independent"}},"vconcat":[
   {"title":"Patients with Stage III−IV","width":386,"height":168,"encoding":{"x":{"field":"t","type":"quantitative","title":"Time(years)","scale":{"domain":[-0.75,15.75],"nice":false},"axis":{"values":[0,1,2,3,4,5,6,7,8,9,10,11,12,13,14,15]}},"y":{"field":"s","type":"quantitative","scale":{"domain":[-0.05,1.05],"nice":false},"axis":{"values":[0,0.25,0.5,0.75,1],"format":".2f","title":"Survival probability"}}},"layer":[
    {"data":{"name":"curves"},"transform":[{"filter":"datum.p==='p4'"}],"mark":"line","encoding":{"color":{"field":"Risk","type":"nominal"}}},
    {"data":{"name":"censors"},"transform":[{"filter":"datum.p==='p4'"}],"mark":"point","encoding":{"stroke":{"field":"Risk","type":"nominal","legend":null}}},
    {"data":{"name":"pvals"},"transform":[{"filter":"datum.p==='p4'"}],"mark":{"type":"text","fontSize":17,"align":"left","baseline":"middle"},"encoding":{"text":{"field":"label"}}}]},
   {"width":386,"height":27,"data":{"name":"risk"},"transform":[{"filter":"datum.p==='p4'"}],"mark":"text","encoding":{"x":{"field":"t","type":"quantitative","title":"Time(years)","scale":{"domain":[-0.75,15.75],"nice":false},"axis":{"values":[0,1,2,3,4,5,6,7,8,9,10,11,12,13,14,15]}},"y":{"field":"Risk","type":"nominal","scale":{"type":"point","padding":0.6},"axis":{"labelColor":{"condition":{"test":"datum.value==='high'","value":"#FF0000"},"value":"#0000FF"},"labelFontSize":12}},"text":{"field":"n"},"color":{"field":"Risk","type":"nominal","legend":null}}}]}
 ]},
 {"title":{"text":"D","fontSize":47,"anchor":"start","frame":"bounds","dx":-40,"offset":-57},"spacing":42,"resolve":{"scale":{"color":"independent","stroke":"independent"},"legend":{"color":"independent"}},"hconcat":[
  {"spacing":30,"resolve":{"scale":{"color":"independent","stroke":"independent"},"legend":{"color":"independent"}},"vconcat":[
   {"title":"Patients with age<=65","width":386,"height":168,"encoding":{"x":{"field":"t","type":"quantitative","title":"Time(years)","scale":{"domain":[-0.75,15.75],"nice":false},"axis":{"values":[0,1,2,3,4,5,6,7,8,9,10,11,12,13,14,15]}},"y":{"field":"s","type":"quantitative","scale":{"domain":[-0.05,1.05],"nice":false},"axis":{"values":[0,0.25,0.5,0.75,1],"format":".2f","title":"Survival probability"}}},"layer":[
    {"data":{"name":"curves"},"transform":[{"filter":"datum.p==='p7'"}],"mark":"line","encoding":{"color":{"field":"Risk","type":"nominal"}}},
    {"data":{"name":"censors"},"transform":[{"filter":"datum.p==='p7'"}],"mark":"point","encoding":{"stroke":{"field":"Risk","type":"nominal","legend":null}}},
    {"data":{"name":"pvals"},"transform":[{"filter":"datum.p==='p7'"}],"mark":{"type":"text","fontSize":17,"align":"left","baseline":"middle"},"encoding":{"text":{"field":"label"}}}]},
   {"width":386,"height":27,"data":{"name":"risk"},"transform":[{"filter":"datum.p==='p7'"}],"mark":"text","encoding":{"x":{"field":"t","type":"quantitative","title":"Time(years)","scale":{"domain":[-0.75,15.75],"nice":false},"axis":{"values":[0,1,2,3,4,5,6,7,8,9,10,11,12,13,14,15]}},"y":{"field":"Risk","type":"nominal","scale":{"type":"point","padding":0.6},"axis":{"labelColor":{"condition":{"test":"datum.value==='high'","value":"#FF0000"},"value":"#0000FF"},"labelFontSize":12}},"text":{"field":"n"},"color":{"field":"Risk","type":"nominal","legend":null}}}]},
  {"spacing":30,"resolve":{"scale":{"color":"independent","stroke":"independent"},"legend":{"color":"independent"}},"vconcat":[
   {"title":"Patients with age>65","width":386,"height":168,"encoding":{"x":{"field":"t","type":"quantitative","title":"Time(years)","scale":{"domain":[-0.75,15.75],"nice":false},"axis":{"values":[0,1,2,3,4,5,6,7,8,9,10,11,12,13,14,15]}},"y":{"field":"s","type":"quantitative","scale":{"domain":[-0.05,1.05],"nice":false},"axis":{"values":[0,0.25,0.5,0.75,1],"format":".2f","title":"Survival probability"}}},"layer":[
    {"data":{"name":"curves"},"transform":[{"filter":"datum.p==='p8'"}],"mark":"line","encoding":{"color":{"field":"Risk","type":"nominal"}}},
    {"data":{"name":"censors"},"transform":[{"filter":"datum.p==='p8'"}],"mark":"point","encoding":{"stroke":{"field":"Risk","type":"nominal","legend":null}}},
    {"data":{"name":"pvals"},"transform":[{"filter":"datum.p==='p8'"}],"mark":{"type":"text","fontSize":17,"align":"left","baseline":"middle"},"encoding":{"text":{"field":"label"}}}]},
   {"width":386,"height":27,"data":{"name":"risk"},"transform":[{"filter":"datum.p==='p8'"}],"mark":"text","encoding":{"x":{"field":"t","type":"quantitative","title":"Time(years)","scale":{"domain":[-0.75,15.75],"nice":false},"axis":{"values":[0,1,2,3,4,5,6,7,8,9,10,11,12,13,14,15]}},"y":{"field":"Risk","type":"nominal","scale":{"type":"point","padding":0.6},"axis":{"labelColor":{"condition":{"test":"datum.value==='high'","value":"#FF0000"},"value":"#0000FF"},"labelFontSize":12}},"text":{"field":"n"},"color":{"field":"Risk","type":"nominal","legend":null}}}]}
 ]}
]},
 {"title":{"text":"F","fontSize":47,"anchor":"start","frame":"bounds","dx":-40,"offset":-26},"spacing":42,"resolve":{"scale":{"color":"independent","stroke":"independent"},"legend":{"color":"independent"}},"hconcat":[
  {"spacing":30,"resolve":{"scale":{"color":"independent","stroke":"independent"},"legend":{"color":"independent"}},"vconcat":[
   {"title":"Patients with FEMALE","width":386,"height":168,"encoding":{"x":{"field":"t","type":"quantitative","title":"Time(years)","scale":{"domain":[-0.75,15.75],"nice":false},"axis":{"values":[0,1,2,3,4,5,6,7,8,9,10,11,12,13,14,15]}},"y":{"field":"s","type":"quantitative","scale":{"domain":[-0.05,1.05],"nice":false},"axis":{"values":[0,0.25,0.5,0.75,1],"format":".2f","title":"Survival probability"}}},"layer":[
    {"data":{"name":"curves"},"transform":[{"filter":"datum.p==='p11'"}],"mark":"line","encoding":{"color":{"field":"Risk","type":"nominal"}}},
    {"data":{"name":"censors"},"transform":[{"filter":"datum.p==='p11'"}],"mark":"point","encoding":{"stroke":{"field":"Risk","type":"nominal","legend":null}}},
    {"data":{"name":"pvals"},"transform":[{"filter":"datum.p==='p11'"}],"mark":{"type":"text","fontSize":17,"align":"left","baseline":"middle"},"encoding":{"text":{"field":"label"}}}]},
   {"width":386,"height":27,"data":{"name":"risk"},"transform":[{"filter":"datum.p==='p11'"}],"mark":"text","encoding":{"x":{"field":"t","type":"quantitative","title":"Time(years)","scale":{"domain":[-0.75,15.75],"nice":false},"axis":{"values":[0,1,2,3,4,5,6,7,8,9,10,11,12,13,14,15]}},"y":{"field":"Risk","type":"nominal","scale":{"type":"point","padding":0.6},"axis":{"labelColor":{"condition":{"test":"datum.value==='high'","value":"#FF0000"},"value":"#0000FF"},"labelFontSize":12}},"text":{"field":"n"},"color":{"field":"Risk","type":"nominal","legend":null}}}]},
  {"spacing":30,"resolve":{"scale":{"color":"independent","stroke":"independent"},"legend":{"color":"independent"}},"vconcat":[
   {"title":"Patients with MALE","width":386,"height":168,"encoding":{"x":{"field":"t","type":"quantitative","title":"Time(years)","scale":{"domain":[-0.75,15.75],"nice":false},"axis":{"values":[0,1,2,3,4,5,6,7,8,9,10,11,12,13,14,15]}},"y":{"field":"s","type":"quantitative","scale":{"domain":[-0.05,1.05],"nice":false},"axis":{"values":[0,0.25,0.5,0.75,1],"format":".2f","title":"Survival probability"}}},"layer":[
    {"data":{"name":"curves"},"transform":[{"filter":"datum.p==='p12'"}],"mark":"line","encoding":{"color":{"field":"Risk","type":"nominal"}}},
    {"data":{"name":"censors"},"transform":[{"filter":"datum.p==='p12'"}],"mark":"point","encoding":{"stroke":{"field":"Risk","type":"nominal","legend":null}}},
    {"data":{"name":"pvals"},"transform":[{"filter":"datum.p==='p12'"}],"mark":{"type":"text","fontSize":17,"align":"left","baseline":"middle"},"encoding":{"text":{"field":"label"}}}]},
   {"width":386,"height":27,"data":{"name":"risk"},"transform":[{"filter":"datum.p==='p12'"}],"mark":"text","encoding":{"x":{"field":"t","type":"quantitative","title":"Time(years)","scale":{"domain":[-0.75,15.75],"nice":false},"axis":{"values":[0,1,2,3,4,5,6,7,8,9,10,11,12,13,14,15]}},"y":{"field":"Risk","type":"nominal","scale":{"type":"point","padding":0.6},"axis":{"labelColor":{"condition":{"test":"datum.value==='high'","value":"#FF0000"},"value":"#0000FF"},"labelFontSize":12}},"text":{"field":"n"},"color":{"field":"Risk","type":"nominal","legend":null}}}]}
 ]}
]},
 {"title":{"text":"H","fontSize":47,"anchor":"start","frame":"bounds","dx":-40,"offset":-37.6},"spacing":42,"resolve":{"scale":{"color":"independent","stroke":"independent"},"legend":{"color":"independent"}},"hconcat":[
  {"spacing":30,"resolve":{"scale":{"color":"independent","stroke":"independent"},"legend":{"color":"independent"}},"vconcat":[
   {"title":"Patients with N0−NX","width":386,"height":168,"encoding":{"x":{"field":"t","type":"quantitative","title":"Time(years)","scale":{"domain":[-0.75,15.75],"nice":false},"axis":{"values":[0,1,2,3,4,5,6,7,8,9,10,11,12,13,14,15]}},"y":{"field":"s","type":"quantitative","scale":{"domain":[-0.05,1.05],"nice":false},"axis":{"values":[0,0.25,0.5,0.75,1],"format":".2f","title":"Survival probability"}}},"layer":[
    {"data":{"name":"curves"},"transform":[{"filter":"datum.p==='p15'"}],"mark":"line","encoding":{"color":{"field":"Risk","type":"nominal"}}},
    {"data":{"name":"censors"},"transform":[{"filter":"datum.p==='p15'"}],"mark":"point","encoding":{"stroke":{"field":"Risk","type":"nominal","legend":null}}},
    {"data":{"name":"pvals"},"transform":[{"filter":"datum.p==='p15'"}],"mark":{"type":"text","fontSize":17,"align":"left","baseline":"middle"},"encoding":{"text":{"field":"label"}}}]},
   {"width":386,"height":27,"data":{"name":"risk"},"transform":[{"filter":"datum.p==='p15'"}],"mark":"text","encoding":{"x":{"field":"t","type":"quantitative","title":"Time(years)","scale":{"domain":[-0.75,15.75],"nice":false},"axis":{"values":[0,1,2,3,4,5,6,7,8,9,10,11,12,13,14,15]}},"y":{"field":"Risk","type":"nominal","scale":{"type":"point","padding":0.6},"axis":{"labelColor":{"condition":{"test":"datum.value==='high'","value":"#FF0000"},"value":"#0000FF"},"labelFontSize":12}},"text":{"field":"n"},"color":{"field":"Risk","type":"nominal","legend":null}}}]},
  {"spacing":30,"resolve":{"scale":{"color":"independent","stroke":"independent"},"legend":{"color":"independent"}},"vconcat":[
   {"title":"Patients with N1−3","width":386,"height":168,"encoding":{"x":{"field":"t","type":"quantitative","title":"Time(years)","scale":{"domain":[-0.75,15.75],"nice":false},"axis":{"values":[0,1,2,3,4,5,6,7,8,9,10,11,12,13,14,15]}},"y":{"field":"s","type":"quantitative","scale":{"domain":[-0.05,1.05],"nice":false},"axis":{"values":[0,0.25,0.5,0.75,1],"format":".2f","title":"Survival probability"}}},"layer":[
    {"data":{"name":"curves"},"transform":[{"filter":"datum.p==='p16'"}],"mark":"line","encoding":{"color":{"field":"Risk","type":"nominal"}}},
    {"data":{"name":"censors"},"transform":[{"filter":"datum.p==='p16'"}],"mark":"point","encoding":{"stroke":{"field":"Risk","type":"nominal","legend":null}}},
    {"data":{"name":"pvals"},"transform":[{"filter":"datum.p==='p16'"}],"mark":{"type":"text","fontSize":17,"align":"left","baseline":"middle"},"encoding":{"text":{"field":"label"}}}]},
   {"width":386,"height":27,"data":{"name":"risk"},"transform":[{"filter":"datum.p==='p16'"}],"mark":"text","encoding":{"x":{"field":"t","type":"quantitative","title":"Time(years)","scale":{"domain":[-0.75,15.75],"nice":false},"axis":{"values":[0,1,2,3,4,5,6,7,8,9,10,11,12,13,14,15]}},"y":{"field":"Risk","type":"nominal","scale":{"type":"point","padding":0.6},"axis":{"labelColor":{"condition":{"test":"datum.value==='high'","value":"#FF0000"},"value":"#0000FF"},"labelFontSize":12}},"text":{"field":"n"},"color":{"field":"Risk","type":"nominal","legend":null}}}]}
 ]}
]}
],
"config":{
 "font":"Liberation Sans",
 "view":{"stroke":null},
 "range":{"category":["#FF0000","#0000FF"]},
 "axis":{"grid":false,"domainColor":"#000000","domainWidth":1.5,"tickColor":"#000000","tickWidth":1.2,"tickSize":4,"labelColor":"#000000","labelFontSize":12.5,"labelPadding":2,"titleColor":"#000000","titleFontSize":14,"titleFontWeight":"normal","labelOverlap":false,"labelFlush":false},
 "axisX":{"labelAngle":0,"titlePadding":2,"labelPadding":1},
 "axisY":{"titlePadding":5},
 "legend":{"orient":"none","legendX":130,"legendY":-34,"direction":"horizontal","titleOrient":"left","titleFontSize":13,"titleFontWeight":"normal","titleColor":"#000000","labelFontSize":13,"labelColor":"#000000","symbolType":"stroke","symbolSize":200,"symbolStrokeWidth":3,"columnPadding":8,"titlePadding":8,"padding":0},
 "title":{"anchor":"start","frame":"group","fontSize":16,"fontWeight":"normal","color":"#000000","offset":16},
 "line":{"interpolate":"step-after","strokeWidth":2.8},
 "point":{"shape":"M-1,0L1,0M0,-1L0,1","filled":false,"size":60,"strokeWidth":1.3,"opacity":1},
 "text":{"fontSize":12}
}
}
